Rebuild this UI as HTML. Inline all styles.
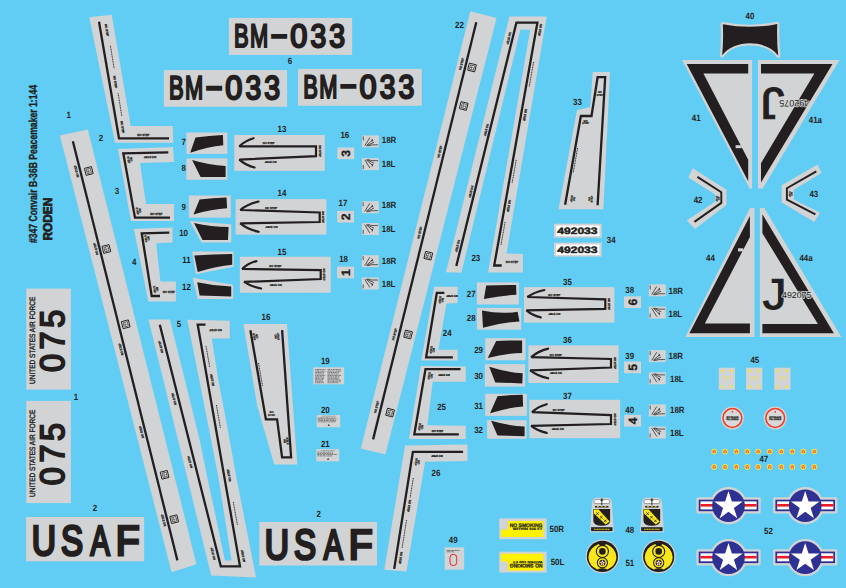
<!DOCTYPE html>
<html><head><meta charset="utf-8"><title>Roden 347 Convair B-36B Peacemaker decal sheet</title>
<style>
html,body{margin:0;padding:0;background:#62cdf4;}
body{width:846px;height:588px;overflow:hidden;font-family:"Liberation Sans",sans-serif;}
svg{display:block;}
svg text{font-family:"Liberation Sans",sans-serif;text-rendering:geometricPrecision;}
</style></head><body>
<svg width="846" height="588" viewBox="0 0 846 588">
<rect width="846" height="588" fill="#62cdf4"/>
<text x="0.0" y="0.0" font-size="11.6" font-weight="bold" text-anchor="start" fill="#231f20" transform="translate(37.4,243) rotate(-90)" textLength="158" lengthAdjust="spacingAndGlyphs" stroke="#231f20" stroke-width="0.35">#347 Convair B-36B Peacemaker 1:144</text>
<text x="0.0" y="0.0" font-size="12.6" font-weight="bold" text-anchor="start" fill="#231f20" transform="translate(52.4,240.6) rotate(-90)" textLength="43" lengthAdjust="spacingAndGlyphs" stroke="#231f20" stroke-width="0.8">RODEN</text>
<rect x="228.9" y="17.9" width="123.2" height="37.0" fill="#d1d3d4" />
<text font-size="32.56" font-weight="normal" fill="#231f20" stroke="#231f20" stroke-width="2.2" stroke-linejoin="miter" ><tspan x="234.00" y="47.40" textLength="14.64" lengthAdjust="spacingAndGlyphs">B</tspan><tspan x="250.01" y="47.40" textLength="18.18" lengthAdjust="spacingAndGlyphs">M</tspan><tspan x="270.64" y="44.84" textLength="17.13" lengthAdjust="spacingAndGlyphs">-</tspan><tspan x="290.30" y="47.40" textLength="17.07" lengthAdjust="spacingAndGlyphs">0</tspan><tspan x="310.53" y="47.40" textLength="15.69" lengthAdjust="spacingAndGlyphs">3</tspan><tspan x="329.22" y="47.40" textLength="15.81" lengthAdjust="spacingAndGlyphs">3</tspan></text>
<rect x="163.9" y="70.1" width="123.2" height="36.7" fill="#d1d3d4" />
<text font-size="32.99" font-weight="normal" fill="#231f20" stroke="#231f20" stroke-width="2.2" stroke-linejoin="miter" ><tspan x="169.00" y="99.40" textLength="14.64" lengthAdjust="spacingAndGlyphs">B</tspan><tspan x="185.01" y="99.40" textLength="18.18" lengthAdjust="spacingAndGlyphs">M</tspan><tspan x="205.64" y="96.81" textLength="17.13" lengthAdjust="spacingAndGlyphs">-</tspan><tspan x="225.30" y="99.40" textLength="17.07" lengthAdjust="spacingAndGlyphs">0</tspan><tspan x="245.53" y="99.40" textLength="15.69" lengthAdjust="spacingAndGlyphs">3</tspan><tspan x="264.22" y="99.40" textLength="15.81" lengthAdjust="spacingAndGlyphs">3</tspan></text>
<rect x="298.0" y="68.9" width="123.8" height="36.9" fill="#d1d3d4" />
<text font-size="32.70" font-weight="normal" fill="#231f20" stroke="#231f20" stroke-width="2.2" stroke-linejoin="miter" ><tspan x="303.20" y="98.00" textLength="14.64" lengthAdjust="spacingAndGlyphs">B</tspan><tspan x="319.21" y="98.00" textLength="18.18" lengthAdjust="spacingAndGlyphs">M</tspan><tspan x="339.84" y="95.43" textLength="17.13" lengthAdjust="spacingAndGlyphs">-</tspan><tspan x="359.50" y="98.00" textLength="17.07" lengthAdjust="spacingAndGlyphs">0</tspan><tspan x="379.73" y="98.00" textLength="15.69" lengthAdjust="spacingAndGlyphs">3</tspan><tspan x="398.42" y="98.00" textLength="15.81" lengthAdjust="spacingAndGlyphs">3</tspan></text>
<text x="289.9" y="64.1" font-size="9.0" font-weight="bold" text-anchor="middle" textLength="4.4" lengthAdjust="spacingAndGlyphs" fill="#231f20" >6</text>
<rect x="26.3" y="288.6" width="44.6" height="101.0" fill="#d1d3d4" />
<text x="0.0" y="0.0" font-size="7.8" font-weight="normal" text-anchor="start" fill="#231f20" transform="translate(35.4,384.0) rotate(-90)" textLength="87.3" lengthAdjust="spacingAndGlyphs" stroke="#231f20" stroke-width="0.35">UNITED STATES AIR FORCE</text>
<g transform="translate(65.2,371.7) rotate(-90)">
<text font-size="34.16" font-weight="normal" fill="#231f20" stroke="#231f20" stroke-width="1.9" stroke-linejoin="miter" ><tspan x="-0.32" y="-0.95" textLength="18.11" lengthAdjust="spacingAndGlyphs">0</tspan><tspan x="22.31" y="-0.95" textLength="17.85" lengthAdjust="spacingAndGlyphs">7</tspan><tspan x="43.95" y="-0.95" textLength="18.03" lengthAdjust="spacingAndGlyphs">5</tspan></text>
</g>
<rect x="26.3" y="400.9" width="44.6" height="102.2" fill="#d1d3d4" />
<text x="0.0" y="0.0" font-size="7.8" font-weight="normal" text-anchor="start" fill="#231f20" transform="translate(35.4,497.0) rotate(-90)" textLength="87.3" lengthAdjust="spacingAndGlyphs" stroke="#231f20" stroke-width="0.35">UNITED STATES AIR FORCE</text>
<g transform="translate(65.2,484.9) rotate(-90)">
<text font-size="34.16" font-weight="normal" fill="#231f20" stroke="#231f20" stroke-width="1.9" stroke-linejoin="miter" ><tspan x="-0.32" y="-0.95" textLength="18.11" lengthAdjust="spacingAndGlyphs">0</tspan><tspan x="22.31" y="-0.95" textLength="17.85" lengthAdjust="spacingAndGlyphs">7</tspan><tspan x="43.95" y="-0.95" textLength="18.03" lengthAdjust="spacingAndGlyphs">5</tspan></text>
</g>
<text x="76.0" y="400.0" font-size="9.0" font-weight="bold" text-anchor="middle" textLength="4.4" lengthAdjust="spacingAndGlyphs" fill="#231f20" >1</text>
<text x="68.8" y="117.9" font-size="9.0" font-weight="bold" text-anchor="middle" textLength="4.4" lengthAdjust="spacingAndGlyphs" fill="#231f20" >1</text>
<rect x="26.0" y="517.0" width="118.1" height="44.3" fill="#d1d3d4" />
<text font-size="42.01" font-weight="normal" fill="#231f20" stroke="#231f20" stroke-width="2.9" stroke-linejoin="miter" ><tspan x="31.67" y="554.55" textLength="24.24" lengthAdjust="spacingAndGlyphs">U</tspan><tspan x="60.96" y="554.55" textLength="22.08" lengthAdjust="spacingAndGlyphs">S</tspan><tspan x="90.59" y="554.55" textLength="19.22" lengthAdjust="spacingAndGlyphs">A</tspan><tspan x="115.65" y="554.55" textLength="23.86" lengthAdjust="spacingAndGlyphs">F</tspan></text>
<rect x="259.3" y="522.0" width="117.7" height="43.5" fill="#d1d3d4" />
<text font-size="41.86" font-weight="normal" fill="#231f20" stroke="#231f20" stroke-width="2.9" stroke-linejoin="miter" ><tspan x="264.67" y="559.05" textLength="24.24" lengthAdjust="spacingAndGlyphs">U</tspan><tspan x="294.03" y="559.05" textLength="22.08" lengthAdjust="spacingAndGlyphs">S</tspan><tspan x="323.73" y="559.05" textLength="19.22" lengthAdjust="spacingAndGlyphs">A</tspan><tspan x="348.85" y="559.05" textLength="23.86" lengthAdjust="spacingAndGlyphs">F</tspan></text>
<text x="94.9" y="511.4" font-size="9.0" font-weight="bold" text-anchor="middle" textLength="4.4" lengthAdjust="spacingAndGlyphs" fill="#231f20" >2</text>
<text x="318.7" y="517.0" font-size="9.0" font-weight="bold" text-anchor="middle" textLength="4.4" lengthAdjust="spacingAndGlyphs" fill="#231f20" >2</text>
<polygon points="59.9,135.6 87.8,129.4 196.4,564.2 171.6,572.2" fill="#d1d3d4" />
<polyline points="72.9,141.2 177.4,560.4" fill="none" stroke="#231f20" stroke-width="2.3" stroke-linejoin="miter" />
<polygon points="89.3,17.3 111.7,14.7 130.7,126.0 172.7,126.0 173.3,142.7 115.0,142.7" fill="#d1d3d4" />
<polyline points="99.0,21.7 119.0,138.3 169.0,138.3" fill="none" stroke="#231f20" stroke-width="2.3" stroke-linejoin="miter" />
<text x="101.0" y="141.0" font-size="9.0" font-weight="bold" text-anchor="middle" textLength="4.4" lengthAdjust="spacingAndGlyphs" fill="#231f20" >2</text>
<polygon points="118.0,149.0 173.0,147.0 174.0,162.0 140.0,163.0 146.0,204.0 174.0,204.0 174.0,221.0 131.0,221.0" fill="#d1d3d4" />
<polyline points="168.3,152.3 123.3,153.3 135.0,217.7 170.0,217.7" fill="none" stroke="#231f20" stroke-width="2.3" stroke-linejoin="miter" />
<text x="117.0" y="194.0" font-size="9.0" font-weight="bold" text-anchor="middle" textLength="4.4" lengthAdjust="spacingAndGlyphs" fill="#231f20" >3</text>
<polygon points="133.9,229.0 172.5,227.6 172.5,242.6 156.2,243.2 160.5,281.5 175.9,281.5 175.9,301.4 148.3,301.4" fill="#d1d3d4" />
<polyline points="169.3,232.7 141.7,233.3 151.7,296.0 160.0,296.0" fill="none" stroke="#231f20" stroke-width="2.3" stroke-linejoin="miter" />
<text x="134.3" y="264.5" font-size="9.0" font-weight="bold" text-anchor="middle" textLength="4.4" lengthAdjust="spacingAndGlyphs" fill="#231f20" >4</text>
<polygon points="148.5,319.5 169.8,319.5 184.9,380.0 199.7,440.0 207.8,480.0 212.3,500.5 224.9,560.4 231.5,560.4 218.9,480.0 211.1,440.0 199.3,380.0 187.3,319.8 229.8,320.8 229.8,338.4 211.8,338.4 218.3,380.0 226.0,420.0 236.9,480.0 256.0,577.6 211.2,575.4" fill="#d1d3d4" />
<polyline points="159.8,324.7 220.8,566.4 240.0,566.4 197.7,324.7 205.5,324.7" fill="none" stroke="#231f20" stroke-width="2.3" stroke-linejoin="miter" />
<text x="179.0" y="326.5" font-size="9.0" font-weight="bold" text-anchor="middle" textLength="4.4" lengthAdjust="spacingAndGlyphs" fill="#231f20" >5</text>
<polygon points="243.4,324.0 286.9,324.0 297.3,464.5 274.3,464.5 257.4,406.8" fill="#d1d3d4" />
<polyline points="250.4,330.2 265.9,419.4 277.1,419.4 282.1,457.3 291.1,457.3 282.1,330.2" fill="none" stroke="#231f20" stroke-width="2.3" stroke-linejoin="miter" />
<text x="265.9" y="320.0" font-size="9.0" font-weight="bold" text-anchor="middle" textLength="8.8" lengthAdjust="spacingAndGlyphs" fill="#231f20" >16</text>
<rect x="313.2" y="367.3" width="30.9" height="17.0" fill="#d1d3d4" />
<text x="325.3" y="364.3" font-size="9.0" font-weight="bold" text-anchor="middle" textLength="8.8" lengthAdjust="spacingAndGlyphs" fill="#231f20" >19</text>
<line x1="315.2" y1="369.6" x2="325.3" y2="369.6" stroke="#231f20" stroke-width="0.75" stroke-dasharray="1.4 0.4 2.0 0.4 1.8 0.5 0.9 0.5 0.9 0.5" opacity="0.7"/>
<line x1="315.2" y1="371.1" x2="325.4" y2="371.1" stroke="#231f20" stroke-width="0.75" stroke-dasharray="1.0 0.5 2.3 0.4 1.2 0.6 2.5 0.6 1.5 0.7" opacity="0.7"/>
<line x1="315.2" y1="372.5" x2="324.1" y2="372.5" stroke="#231f20" stroke-width="0.75" stroke-dasharray="2.3 0.5 1.1 0.4 1.4 0.6 1.1 0.6 2.0 0.5" opacity="0.7"/>
<line x1="315.2" y1="374.0" x2="323.7" y2="374.0" stroke="#231f20" stroke-width="0.75" stroke-dasharray="0.9 0.4 1.2 0.6 1.6 0.5 1.9 0.5 1.3 0.6" opacity="0.7"/>
<line x1="315.2" y1="375.4" x2="325.1" y2="375.4" stroke="#231f20" stroke-width="0.75" stroke-dasharray="1.2 0.6 1.7 0.7 2.1 0.5 2.6 0.4 1.6 0.6" opacity="0.7"/>
<line x1="315.2" y1="376.9" x2="324.3" y2="376.9" stroke="#231f20" stroke-width="0.75" stroke-dasharray="1.7 0.4 2.0 0.6 1.8 0.7 1.4 0.6 1.9 0.6" opacity="0.7"/>
<line x1="315.2" y1="378.3" x2="324.5" y2="378.3" stroke="#231f20" stroke-width="0.75" stroke-dasharray="2.3 0.7 1.7 0.6 0.9 0.6 2.0 0.7 2.3 0.4" opacity="0.7"/>
<line x1="315.2" y1="379.8" x2="323.3" y2="379.8" stroke="#231f20" stroke-width="0.75" stroke-dasharray="2.0 0.4 1.6 0.4 1.0 0.4 2.2 0.4 1.2 0.5" opacity="0.7"/>
<line x1="315.2" y1="381.2" x2="323.0" y2="381.2" stroke="#231f20" stroke-width="0.75" stroke-dasharray="0.9 0.5 1.8 0.7 2.3 0.7 1.3 0.5 1.4 0.7" opacity="0.7"/>
<line x1="315.2" y1="382.7" x2="324.0" y2="382.7" stroke="#231f20" stroke-width="0.75" stroke-dasharray="1.1 0.4 1.2 0.4 1.7 0.6 1.3 0.4 1.6 0.5" opacity="0.7"/>
<line x1="327.5" y1="369.6" x2="340.6" y2="369.6" stroke="#231f20" stroke-width="0.75" stroke-dasharray="2.5 0.6 1.7 0.6 2.0 0.4 2.4 0.6 2.4 0.6" opacity="0.7"/>
<line x1="327.5" y1="371.1" x2="341.5" y2="371.1" stroke="#231f20" stroke-width="0.75" stroke-dasharray="1.5 0.4 1.9 0.4 0.9 0.4 1.1 0.5 0.9 0.4" opacity="0.7"/>
<line x1="327.5" y1="372.5" x2="338.9" y2="372.5" stroke="#231f20" stroke-width="0.75" stroke-dasharray="1.0 0.5 0.8 0.7 1.9 0.4 1.3 0.5 1.5 0.4" opacity="0.7"/>
<line x1="327.5" y1="374.0" x2="338.6" y2="374.0" stroke="#231f20" stroke-width="0.75" stroke-dasharray="2.6 0.5 1.7 0.4 1.0 0.5 1.3 0.6 1.1 0.4" opacity="0.7"/>
<line x1="327.5" y1="375.4" x2="341.4" y2="375.4" stroke="#231f20" stroke-width="0.75" stroke-dasharray="1.8 0.4 1.8 0.4 1.8 0.7 2.4 0.6 1.3 0.5" opacity="0.7"/>
<line x1="327.5" y1="376.9" x2="339.3" y2="376.9" stroke="#231f20" stroke-width="0.75" stroke-dasharray="2.2 0.5 2.2 0.5 1.2 0.6 2.6 0.6 2.3 0.6" opacity="0.7"/>
<line x1="327.5" y1="378.3" x2="338.6" y2="378.3" stroke="#231f20" stroke-width="0.75" stroke-dasharray="1.2 0.5 1.4 0.4 0.9 0.4 1.3 0.6 2.5 0.5" opacity="0.7"/>
<line x1="327.5" y1="379.8" x2="340.3" y2="379.8" stroke="#231f20" stroke-width="0.75" stroke-dasharray="2.6 0.7 1.5 0.4 1.2 0.4 1.2 0.6 2.4 0.6" opacity="0.7"/>
<line x1="327.5" y1="381.2" x2="340.8" y2="381.2" stroke="#231f20" stroke-width="0.75" stroke-dasharray="2.0 0.6 1.0 0.6 2.4 0.6 2.2 0.5 1.1 0.6" opacity="0.7"/>
<line x1="327.5" y1="382.7" x2="339.1" y2="382.7" stroke="#231f20" stroke-width="0.75" stroke-dasharray="2.2 0.7 1.5 0.5 2.5 0.6 1.1 0.4 1.1 0.7" opacity="0.7"/>
<rect x="316.7" y="415.0" width="23.5" height="12.3" fill="#d1d3d4" />
<line x1="321.7" y1="416.2" x2="336.2" y2="416.2" stroke="#231f20" stroke-width="0.5" stroke-dasharray="1 0.4" opacity="0.75"/>
<line x1="317.8" y1="418.0" x2="335.9" y2="418.0" stroke="#231f20" stroke-width="0.7" stroke-dasharray="1.1 0.6 2.6 0.6 1.4 0.5 1.0 0.4 2.5 0.6" opacity="0.7"/>
<line x1="317.8" y1="419.2" x2="336.5" y2="419.2" stroke="#231f20" stroke-width="0.7" stroke-dasharray="2.5 0.5 2.4 0.6 1.2 0.4 1.3 0.4 1.9 0.4" opacity="0.7"/>
<line x1="317.8" y1="420.5" x2="336.0" y2="420.5" stroke="#231f20" stroke-width="0.7" stroke-dasharray="1.0 0.7 1.4 0.5 1.9 0.7 1.6 0.7 1.7 0.5" opacity="0.7"/>
<line x1="317.8" y1="421.8" x2="336.0" y2="421.8" stroke="#231f20" stroke-width="0.7" stroke-dasharray="0.8 0.5 1.1 0.4 2.2 0.4 1.7 0.6 1.8 0.5" opacity="0.7"/>
<polygon points="328.8,423.9 329.9,425.7 327.6,425.7" fill="#231f20" />
<text x="325.3" y="413.2" font-size="9.0" font-weight="bold" text-anchor="middle" textLength="8.8" lengthAdjust="spacingAndGlyphs" fill="#231f20" >20</text>
<rect x="316.3" y="449.1" width="22.9" height="12.3" fill="#d1d3d4" />
<line x1="321.3" y1="450.3" x2="335.2" y2="450.3" stroke="#231f20" stroke-width="0.5" stroke-dasharray="1 0.4" opacity="0.75"/>
<line x1="317.4" y1="452.1" x2="333.1" y2="452.1" stroke="#231f20" stroke-width="0.7" stroke-dasharray="1.8 0.6 1.0 0.5 1.2 0.4 2.2 0.5 1.8 0.6" opacity="0.7"/>
<line x1="317.4" y1="453.4" x2="333.3" y2="453.4" stroke="#231f20" stroke-width="0.7" stroke-dasharray="1.6 0.6 1.7 0.5 2.0 0.5 1.8 0.5 2.5 0.6" opacity="0.7"/>
<line x1="317.4" y1="454.6" x2="337.3" y2="454.6" stroke="#231f20" stroke-width="0.7" stroke-dasharray="2.5 0.4 1.8 0.7 2.3 0.4 1.0 0.5 0.9 0.4" opacity="0.7"/>
<line x1="317.4" y1="455.9" x2="332.9" y2="455.9" stroke="#231f20" stroke-width="0.7" stroke-dasharray="2.0 0.6 2.4 0.4 2.1 0.6 1.1 0.7 2.5 0.4" opacity="0.7"/>
<polygon points="328.1,458.0 329.2,459.8 326.9,459.8" fill="#231f20" />
<text x="325.3" y="447.1" font-size="9.0" font-weight="bold" text-anchor="middle" textLength="8.8" lengthAdjust="spacingAndGlyphs" fill="#231f20" >21</text>
<rect x="186.4" y="132.5" width="41.0" height="21.4" fill="#d1d3d4" />
<path d="M190.2,152.7 L195.5,137.6 Q209.2,135.8 222.9,135.0 L223.3,145.2 Q208.4,146.6 190.2,152.7 Z" fill="#231f20" />
<rect x="186.4" y="158.4" width="41.0" height="21.4" fill="#d1d3d4" />
<path d="M192.1,159.9 Q208.8,164.9 225.6,166.0 L225.6,177.0 L200.6,177.0 Z" fill="#231f20" />
<rect x="188.9" y="195.5" width="41.9" height="22.1" fill="#d1d3d4" />
<path d="M193.4,214.4 L199.6,199.6 Q213.1,198.0 226.5,197.4 L227.1,208.2 Q211.9,209.0 193.4,214.4 Z" fill="#231f20" />
<polygon points="189.6,221.0 231.2,224.2 231.2,242.5 201.5,242.5" fill="#d1d3d4" />
<path d="M194.0,222.9 Q211.3,226.9 228.6,227.0 L228.0,239.9 L202.5,239.9 Z" fill="#231f20" />
<polygon points="192.1,251.6 233.7,251.6 233.7,266.7 195.9,274.3" fill="#d1d3d4" />
<path d="M197.7,272.0 L194.3,255.4 Q213.2,254.4 232.2,254.1 L232.2,264.8 Q216.7,266.2 197.7,272.0 Z" fill="#231f20" />
<polygon points="192.6,277.7 233.1,284.7 233.1,298.9 197.7,298.9" fill="#d1d3d4" />
<path d="M197.2,282.2 Q214.2,285.9 231.2,286.6 L231.2,296.6 L199.6,295.5 Z" fill="#231f20" />
<text x="183.6" y="144.5" font-size="9.0" font-weight="bold" text-anchor="middle" textLength="4.4" lengthAdjust="spacingAndGlyphs" fill="#231f20" >7</text>
<text x="183.6" y="171.0" font-size="9.0" font-weight="bold" text-anchor="middle" textLength="4.4" lengthAdjust="spacingAndGlyphs" fill="#231f20" >8</text>
<text x="183.6" y="209.7" font-size="9.0" font-weight="bold" text-anchor="middle" textLength="4.4" lengthAdjust="spacingAndGlyphs" fill="#231f20" >9</text>
<text x="183.6" y="235.8" font-size="9.0" font-weight="bold" text-anchor="middle" textLength="8.8" lengthAdjust="spacingAndGlyphs" fill="#231f20" >10</text>
<text x="186.4" y="263.2" font-size="9.0" font-weight="bold" text-anchor="middle" textLength="8.4" lengthAdjust="spacingAndGlyphs" fill="#231f20" >11</text>
<text x="186.4" y="289.7" font-size="9.0" font-weight="bold" text-anchor="middle" textLength="8.8" lengthAdjust="spacingAndGlyphs" fill="#231f20" >12</text>
<rect x="476.9" y="282.4" width="42.0" height="22.1" fill="#d1d3d4" />
<path d="M483.9,298.9 L486.2,285.6 Q501.1,285.1 516.1,284.9 L516.4,294.7 Q501.8,295.4 483.9,298.9 Z" fill="#231f20" />
<rect x="476.9" y="307.9" width="44.3" height="21.8" fill="#d1d3d4"/>
<path d="M482,310.4 Q500,314.5 517.6,311.7 L519.5,321.5 Q500,322.5 483,327.8 Z" fill="#231f20" />
<rect x="485.2" y="338.2" width="40.3" height="22.1" fill="#d1d3d4" />
<path d="M487.7,358.0 L496.2,341.0 Q509.1,340.2 522.1,340.5 L522.1,352.9 Q506.6,353.2 487.7,358.0 Z" fill="#231f20" />
<rect x="484.9" y="364.1" width="40.2" height="22.5" fill="#d1d3d4" />
<path d="M489.2,366.7 Q506.0,372.0 522.7,373.3 L522.3,383.4 L495.3,382.4 Z" fill="#231f20" />
<rect x="485.2" y="393.8" width="41.6" height="22.1" fill="#d1d3d4" />
<path d="M490.0,413.2 L497.5,396.2 Q510.1,394.9 522.7,394.7 L523.1,406.4 Q508.2,407.5 490.0,413.2 Z" fill="#231f20" />
<rect x="487.1" y="420.2" width="39.4" height="18.6" fill="#d1d3d4" />
<path d="M491.1,420.8 Q507.9,425.6 524.6,426.5 L524.6,436.3 L497.5,435.4 Z" fill="#231f20" />
<text x="471.2" y="297.4" font-size="9.0" font-weight="bold" text-anchor="middle" textLength="8.8" lengthAdjust="spacingAndGlyphs" fill="#231f20" >27</text>
<text x="471.2" y="320.9" font-size="9.0" font-weight="bold" text-anchor="middle" textLength="8.8" lengthAdjust="spacingAndGlyphs" fill="#231f20" >28</text>
<text x="478.6" y="353.0" font-size="9.0" font-weight="bold" text-anchor="middle" textLength="8.8" lengthAdjust="spacingAndGlyphs" fill="#231f20" >29</text>
<text x="478.6" y="378.6" font-size="9.0" font-weight="bold" text-anchor="middle" textLength="8.8" lengthAdjust="spacingAndGlyphs" fill="#231f20" >30</text>
<text x="478.6" y="408.6" font-size="9.0" font-weight="bold" text-anchor="middle" textLength="8.8" lengthAdjust="spacingAndGlyphs" fill="#231f20" >31</text>
<text x="478.6" y="433.2" font-size="9.0" font-weight="bold" text-anchor="middle" textLength="8.8" lengthAdjust="spacingAndGlyphs" fill="#231f20" >32</text>
<rect x="234.3" y="135.0" width="90.5" height="35.9" fill="#d1d3d4" />
<path d="M253.5,138.2 Q244.8,140.8 239.4,146.3 L316.0,146.3 L316.0,156.2 L239.4,159.6 Q245.1,165.0 254.5,167.5" fill="none" stroke="#231f20" stroke-width="2.2" stroke-linejoin="miter" stroke-miterlimit="2.5" stroke-linecap="round"/>
<rect x="235.6" y="199.1" width="90.8" height="35.5" fill="#d1d3d4" />
<path d="M258.6,201.5 Q247.3,204.2 240.3,210.0 L319.7,212.5 L319.7,222.0 L240.3,223.3 Q247.3,229.1 258.6,231.8" fill="none" stroke="#231f20" stroke-width="2.2" stroke-linejoin="miter" stroke-miterlimit="2.5" stroke-linecap="round"/>
<rect x="239.9" y="256.7" width="90.8" height="36.1" fill="#d1d3d4" />
<path d="M256.4,261.1 Q247.6,263.6 242.2,269.0 L320.7,270.1 L320.7,279.0 L244.1,281.9 Q250.6,286.4 261.1,288.5" fill="none" stroke="#231f20" stroke-width="2.2" stroke-linejoin="miter" stroke-miterlimit="2.5" stroke-linecap="round"/>
<rect x="524.0" y="287.1" width="90.4" height="35.6" fill="#d1d3d4" />
<path d="M544.4,290.0 Q533.9,292.2 527.4,297.0 L605.3,299.4 L605.3,308.9 L526.5,310.4 Q531.9,315.2 540.7,317.4" fill="none" stroke="#231f20" stroke-width="2.2" stroke-linejoin="miter" stroke-miterlimit="2.5" stroke-linecap="round"/>
<rect x="528.4" y="345.4" width="90.2" height="37.6" fill="#d1d3d4" />
<path d="M548.2,348.6 Q537.7,351.3 531.2,357.1 L611.0,359.0 L611.0,367.5 L530.2,370.3 Q537.0,375.7 548.2,378.3" fill="none" stroke="#231f20" stroke-width="2.2" stroke-linejoin="miter" stroke-miterlimit="2.5" stroke-linecap="round"/>
<rect x="529.3" y="399.8" width="90.8" height="38.4" fill="#d1d3d4" />
<path d="M546.7,404.2 Q537.6,406.7 532.1,412.1 L611.0,415.1 L611.0,424.0 L531.2,425.9 Q537.1,430.7 546.7,432.9" fill="none" stroke="#231f20" stroke-width="2.2" stroke-linejoin="miter" stroke-miterlimit="2.5" stroke-linecap="round"/>
<text x="281.9" y="132.4" font-size="9.0" font-weight="bold" text-anchor="middle" textLength="8.8" lengthAdjust="spacingAndGlyphs" fill="#231f20" >13</text>
<text x="281.9" y="196.1" font-size="9.0" font-weight="bold" text-anchor="middle" textLength="8.8" lengthAdjust="spacingAndGlyphs" fill="#231f20" >14</text>
<text x="281.9" y="255.1" font-size="9.0" font-weight="bold" text-anchor="middle" textLength="8.8" lengthAdjust="spacingAndGlyphs" fill="#231f20" >15</text>
<text x="567.5" y="284.9" font-size="9.0" font-weight="bold" text-anchor="middle" textLength="8.8" lengthAdjust="spacingAndGlyphs" fill="#231f20" >35</text>
<text x="567.5" y="343.2" font-size="9.0" font-weight="bold" text-anchor="middle" textLength="8.8" lengthAdjust="spacingAndGlyphs" fill="#231f20" >36</text>
<text x="567.5" y="398.8" font-size="9.0" font-weight="bold" text-anchor="middle" textLength="8.8" lengthAdjust="spacingAndGlyphs" fill="#231f20" >37</text>
<text x="344.8" y="137.9" font-size="9.0" font-weight="bold" text-anchor="middle" textLength="8.8" lengthAdjust="spacingAndGlyphs" fill="#231f20" >16</text>
<rect x="337.3" y="147.5" width="16.9" height="11.7" fill="#d1d3d4" />
<text font-size="12.2" font-weight="bold" text-anchor="middle" stroke="#231f20" stroke-width="0.3" fill="#231f20" transform="translate(345.8,153.3) rotate(-90)" x="0" y="4.5">3</text>
<rect x="362.0" y="135.4" width="16.9" height="12.0" fill="#d1d3d4" />
<g transform="translate(362.0,135.4)" fill="none" stroke="#231f20" stroke-width="0.7" stroke-linecap="round"><path d="M3,10 L7.7,2.4 M4.5,10 L10.6,4.8 M10.2,3.8 L10.9,5.6 L9.7,5.4 M6,10.4 Q9,9 15.8,9.4 M5.2,10.2 Q8.5,8.6 11.8,7 M1.2,1.4 L1.3,4.7" /></g>
<rect x="362.0" y="158.1" width="16.9" height="12.0" fill="#d1d3d4" />
<g transform="translate(362.0,170.1) scale(1,-1)" fill="none" stroke="#231f20" stroke-width="0.7" stroke-linecap="round"><path d="M3,10 L7.7,2.4 M4.5,10 L10.6,4.8 M10.2,3.8 L10.9,5.6 L9.7,5.4 M6,10.4 Q9,9 15.8,9.4 M5.2,10.2 Q8.5,8.6 11.8,7 M1.2,1.4 L1.3,4.7" /></g>
<text x="381.8" y="143.2" font-size="9.0" font-weight="bold" text-anchor="start" textLength="14.5" lengthAdjust="spacingAndGlyphs" fill="#231f20" >18R</text>
<text x="381.8" y="167.1" font-size="9.0" font-weight="bold" text-anchor="start" textLength="13.6" lengthAdjust="spacingAndGlyphs" fill="#231f20" >18L</text>
<text x="342.9" y="205.6" font-size="9.0" font-weight="bold" text-anchor="middle" textLength="8.8" lengthAdjust="spacingAndGlyphs" fill="#231f20" >17</text>
<rect x="337.1" y="210.9" width="16.9" height="11.7" fill="#d1d3d4" />
<text font-size="12.2" font-weight="bold" text-anchor="middle" stroke="#231f20" stroke-width="0.3" fill="#231f20" transform="translate(345.6,216.8) rotate(-90)" x="0" y="4.5">2</text>
<rect x="361.9" y="201.2" width="16.9" height="12.0" fill="#d1d3d4" />
<g transform="translate(361.9,201.2)" fill="none" stroke="#231f20" stroke-width="0.7" stroke-linecap="round"><path d="M3,10 L7.7,2.4 M4.5,10 L10.6,4.8 M10.2,3.8 L10.9,5.6 L9.7,5.4 M6,10.4 Q9,9 15.8,9.4 M5.2,10.2 Q8.5,8.6 11.8,7 M1.2,1.4 L1.3,4.7" /></g>
<rect x="361.9" y="223.0" width="16.9" height="12.0" fill="#d1d3d4" />
<g transform="translate(361.9,235.0) scale(1,-1)" fill="none" stroke="#231f20" stroke-width="0.7" stroke-linecap="round"><path d="M3,10 L7.7,2.4 M4.5,10 L10.6,4.8 M10.2,3.8 L10.9,5.6 L9.7,5.4 M6,10.4 Q9,9 15.8,9.4 M5.2,10.2 Q8.5,8.6 11.8,7 M1.2,1.4 L1.3,4.7" /></g>
<text x="381.8" y="207.7" font-size="9.0" font-weight="bold" text-anchor="start" textLength="14.5" lengthAdjust="spacingAndGlyphs" fill="#231f20" >18R</text>
<text x="381.8" y="231.8" font-size="9.0" font-weight="bold" text-anchor="start" textLength="13.6" lengthAdjust="spacingAndGlyphs" fill="#231f20" >18L</text>
<text x="343.6" y="262.3" font-size="9.0" font-weight="bold" text-anchor="middle" textLength="8.8" lengthAdjust="spacingAndGlyphs" fill="#231f20" >18</text>
<rect x="337.1" y="266.6" width="16.9" height="11.7" fill="#d1d3d4" />
<text font-size="12.2" font-weight="bold" text-anchor="middle" stroke="#231f20" stroke-width="0.3" fill="#231f20" transform="translate(345.6,272.5) rotate(-90)" x="0" y="4.5">1</text>
<rect x="361.9" y="255.2" width="16.9" height="12.0" fill="#d1d3d4" />
<g transform="translate(361.9,255.2)" fill="none" stroke="#231f20" stroke-width="0.7" stroke-linecap="round"><path d="M3,10 L7.7,2.4 M4.5,10 L10.6,4.8 M10.2,3.8 L10.9,5.6 L9.7,5.4 M6,10.4 Q9,9 15.8,9.4 M5.2,10.2 Q8.5,8.6 11.8,7 M1.2,1.4 L1.3,4.7" /></g>
<rect x="361.9" y="277.5" width="16.9" height="12.0" fill="#d1d3d4" />
<g transform="translate(361.9,289.5) scale(1,-1)" fill="none" stroke="#231f20" stroke-width="0.7" stroke-linecap="round"><path d="M3,10 L7.7,2.4 M4.5,10 L10.6,4.8 M10.2,3.8 L10.9,5.6 L9.7,5.4 M6,10.4 Q9,9 15.8,9.4 M5.2,10.2 Q8.5,8.6 11.8,7 M1.2,1.4 L1.3,4.7" /></g>
<text x="381.8" y="263.6" font-size="9.0" font-weight="bold" text-anchor="start" textLength="14.5" lengthAdjust="spacingAndGlyphs" fill="#231f20" >18R</text>
<text x="381.8" y="287.1" font-size="9.0" font-weight="bold" text-anchor="start" textLength="13.6" lengthAdjust="spacingAndGlyphs" fill="#231f20" >18L</text>
<text x="629.7" y="293.0" font-size="9.0" font-weight="bold" text-anchor="middle" textLength="8.8" lengthAdjust="spacingAndGlyphs" fill="#231f20" >38</text>
<rect x="624.1" y="296.3" width="16.9" height="11.7" fill="#d1d3d4" />
<text font-size="12.2" font-weight="bold" text-anchor="middle" stroke="#231f20" stroke-width="0.3" fill="#231f20" transform="translate(632.6,302.2) rotate(-90)" x="0" y="4.5">6</text>
<rect x="648.9" y="284.3" width="16.9" height="12.0" fill="#d1d3d4" />
<g transform="translate(648.9,284.3)" fill="none" stroke="#231f20" stroke-width="0.7" stroke-linecap="round"><path d="M3,10 L7.7,2.4 M4.5,10 L10.6,4.8 M10.2,3.8 L10.9,5.6 L9.7,5.4 M6,10.4 Q9,9 15.8,9.4 M5.2,10.2 Q8.5,8.6 11.8,7 M1.2,1.4 L1.3,4.7" /></g>
<rect x="648.9" y="306.6" width="16.9" height="12.0" fill="#d1d3d4" />
<g transform="translate(648.9,318.6) scale(1,-1)" fill="none" stroke="#231f20" stroke-width="0.7" stroke-linecap="round"><path d="M3,10 L7.7,2.4 M4.5,10 L10.6,4.8 M10.2,3.8 L10.9,5.6 L9.7,5.4 M6,10.4 Q9,9 15.8,9.4 M5.2,10.2 Q8.5,8.6 11.8,7 M1.2,1.4 L1.3,4.7" /></g>
<text x="668.5" y="293.8" font-size="9.0" font-weight="bold" text-anchor="start" textLength="14.5" lengthAdjust="spacingAndGlyphs" fill="#231f20" >18R</text>
<text x="668.5" y="317.3" font-size="9.0" font-weight="bold" text-anchor="start" textLength="13.6" lengthAdjust="spacingAndGlyphs" fill="#231f20" >18L</text>
<text x="629.7" y="358.8" font-size="9.0" font-weight="bold" text-anchor="middle" textLength="8.8" lengthAdjust="spacingAndGlyphs" fill="#231f20" >39</text>
<rect x="624.1" y="361.5" width="16.9" height="11.7" fill="#d1d3d4" />
<text font-size="12.2" font-weight="bold" text-anchor="middle" stroke="#231f20" stroke-width="0.3" fill="#231f20" transform="translate(632.6,367.4) rotate(-90)" x="0" y="4.5">5</text>
<rect x="648.9" y="350.1" width="16.9" height="12.0" fill="#d1d3d4" />
<g transform="translate(648.9,350.1)" fill="none" stroke="#231f20" stroke-width="0.7" stroke-linecap="round"><path d="M3,10 L7.7,2.4 M4.5,10 L10.6,4.8 M10.2,3.8 L10.9,5.6 L9.7,5.4 M6,10.4 Q9,9 15.8,9.4 M5.2,10.2 Q8.5,8.6 11.8,7 M1.2,1.4 L1.3,4.7" /></g>
<rect x="648.9" y="372.3" width="16.9" height="12.0" fill="#d1d3d4" />
<g transform="translate(648.9,384.3) scale(1,-1)" fill="none" stroke="#231f20" stroke-width="0.7" stroke-linecap="round"><path d="M3,10 L7.7,2.4 M4.5,10 L10.6,4.8 M10.2,3.8 L10.9,5.6 L9.7,5.4 M6,10.4 Q9,9 15.8,9.4 M5.2,10.2 Q8.5,8.6 11.8,7 M1.2,1.4 L1.3,4.7" /></g>
<text x="668.5" y="359.4" font-size="9.0" font-weight="bold" text-anchor="start" textLength="14.5" lengthAdjust="spacingAndGlyphs" fill="#231f20" >18R</text>
<text x="670.0" y="382.0" font-size="9.0" font-weight="bold" text-anchor="start" textLength="13.6" lengthAdjust="spacingAndGlyphs" fill="#231f20" >18L</text>
<text x="629.7" y="413.1" font-size="9.0" font-weight="bold" text-anchor="middle" textLength="8.8" lengthAdjust="spacingAndGlyphs" fill="#231f20" >40</text>
<rect x="624.1" y="414.9" width="16.9" height="11.7" fill="#d1d3d4" />
<text font-size="12.2" font-weight="bold" text-anchor="middle" stroke="#231f20" stroke-width="0.3" fill="#231f20" transform="translate(632.6,420.8) rotate(-90)" x="0" y="4.5">4</text>
<rect x="648.9" y="404.4" width="16.9" height="12.0" fill="#d1d3d4" />
<g transform="translate(648.9,404.4)" fill="none" stroke="#231f20" stroke-width="0.7" stroke-linecap="round"><path d="M3,10 L7.7,2.4 M4.5,10 L10.6,4.8 M10.2,3.8 L10.9,5.6 L9.7,5.4 M6,10.4 Q9,9 15.8,9.4 M5.2,10.2 Q8.5,8.6 11.8,7 M1.2,1.4 L1.3,4.7" /></g>
<rect x="648.9" y="426.5" width="16.9" height="12.0" fill="#d1d3d4" />
<g transform="translate(648.9,438.5) scale(1,-1)" fill="none" stroke="#231f20" stroke-width="0.7" stroke-linecap="round"><path d="M3,10 L7.7,2.4 M4.5,10 L10.6,4.8 M10.2,3.8 L10.9,5.6 L9.7,5.4 M6,10.4 Q9,9 15.8,9.4 M5.2,10.2 Q8.5,8.6 11.8,7 M1.2,1.4 L1.3,4.7" /></g>
<text x="670.0" y="412.5" font-size="9.0" font-weight="bold" text-anchor="start" textLength="14.5" lengthAdjust="spacingAndGlyphs" fill="#231f20" >18R</text>
<text x="670.0" y="435.7" font-size="9.0" font-weight="bold" text-anchor="start" textLength="13.6" lengthAdjust="spacingAndGlyphs" fill="#231f20" >18L</text>
<polygon points="470.3,11.3 496.6,18.0 385.4,454.6 360.8,448.5" fill="#d1d3d4" />
<polyline points="476.3,22.3 373.1,439.4" fill="none" stroke="#231f20" stroke-width="2.3" stroke-linejoin="miter" />
<text x="459.5" y="28.1" font-size="9.0" font-weight="bold" text-anchor="middle" textLength="8.8" lengthAdjust="spacingAndGlyphs" fill="#231f20" >22</text>
<polygon points="509.4,16.6 546.7,16.6 506.5,253.4 522.9,254.1 522.9,272.5 488.1,272.5 530.2,29.7 520.4,29.7 461.4,272.7 445.9,272.3" fill="#d1d3d4" />
<polyline points="456.3,266.0 516.4,22.7 537.4,22.7 494.2,265.5 501.7,265.5" fill="none" stroke="#231f20" stroke-width="2.3" stroke-linejoin="miter" />
<text x="475.8" y="261.0" font-size="9.0" font-weight="bold" text-anchor="middle" textLength="8.8" lengthAdjust="spacingAndGlyphs" fill="#231f20" >23</text>
<polygon points="434.2,286.7 457.6,286.7 457.6,303.0 446.5,303.4 438.3,349.7 457.6,349.7 457.6,360.5 421.3,360.5" fill="#d1d3d4" />
<polyline points="444.4,292.8 436.8,292.8 426.1,357.3 452.9,357.3" fill="none" stroke="#231f20" stroke-width="2.3" stroke-linejoin="miter" />
<text x="447.2" y="336.2" font-size="9.0" font-weight="bold" text-anchor="middle" textLength="8.8" lengthAdjust="spacingAndGlyphs" fill="#231f20" >24</text>
<polygon points="420.9,366.1 465.8,366.6 465.8,381.7 432.7,381.7 427.4,425.2 465.8,425.8 465.8,439.0 409.0,439.0" fill="#d1d3d4" />
<polyline points="460.5,369.1 425.5,369.1 414.3,434.4 458.8,434.4" fill="none" stroke="#231f20" stroke-width="2.3" stroke-linejoin="miter" />
<text x="441.6" y="410.4" font-size="9.0" font-weight="bold" text-anchor="middle" textLength="8.8" lengthAdjust="spacingAndGlyphs" fill="#231f20" >25</text>
<polygon points="405.1,445.4 467.5,444.6 467.5,461.0 425.1,461.8 406.4,571.5 384.3,569.7" fill="#d1d3d4" />
<polyline points="463.1,451.9 412.9,451.9 394.2,568.9" fill="none" stroke="#231f20" stroke-width="2.3" stroke-linejoin="miter" />
<text x="436.0" y="475.5" font-size="9.0" font-weight="bold" text-anchor="middle" textLength="8.8" lengthAdjust="spacingAndGlyphs" fill="#231f20" >26</text>
<rect x="444.6" y="547.4" width="19.5" height="22.3" fill="#d1d3d4" />
<rect x="450" y="554.4" width="6.7" height="11.1" rx="3" fill="none" stroke="#ed1c24" stroke-width="0.95"/>
<line x1="446.6" y1="550.6" x2="459.4" y2="550.6" stroke="#231f20" stroke-width="0.8" stroke-dasharray="1.2 0.4 0.8 0.3" opacity="0.85"/>
<line x1="446.6" y1="551.8" x2="454" y2="551.8" stroke="#231f20" stroke-width="0.7" stroke-dasharray="0.9 0.4" opacity="0.8"/>
<text x="453.2" y="543.4" font-size="9.0" font-weight="bold" text-anchor="middle" textLength="8.8" lengthAdjust="spacingAndGlyphs" fill="#231f20" >49</text>
<rect x="499.2" y="518.4" width="47.4" height="20.8" fill="#d1d3d4" />
<polygon points="507.9,521.0 543.2,521.0 543.2,537.1 501.0,537.1 501.0,529.6 507.9,529.6" fill="#fff200" />
<text x="542.5" y="526.7" font-size="5.1" font-weight="bold" text-anchor="end" fill="#231f20" textLength="32.8" lengthAdjust="spacingAndGlyphs" stroke="#231f20" stroke-width="0.25">NO SMOKING</text>
<text x="542.5" y="530.3" font-size="3.4" font-weight="bold" text-anchor="end" fill="#231f20" textLength="29.8" lengthAdjust="spacingAndGlyphs" stroke="#231f20" stroke-width="0.2">WITHIN 100 FT</text>
<rect x="499.2" y="551.7" width="47.4" height="20.8" fill="#d1d3d4" />
<polygon points="501.0,553.8 543.2,553.8 543.2,570.5 507.9,570.5 507.9,561.4 501.0,561.4" fill="#fff200" />
<text x="0.0" y="0.0" font-size="5.1" font-weight="bold" text-anchor="start" fill="#231f20" transform="translate(542.5,564.2) rotate(180)" textLength="32.8" lengthAdjust="spacingAndGlyphs" stroke="#231f20" stroke-width="0.25">NO SMOKING</text>
<text x="0.0" y="0.0" font-size="3.4" font-weight="bold" text-anchor="start" fill="#231f20" transform="translate(542.5,560.6) rotate(180)" textLength="29.8" lengthAdjust="spacingAndGlyphs" stroke="#231f20" stroke-width="0.2">WITHIN 100 FT</text>
<text x="549.5" y="532.3" font-size="9.0" font-weight="bold" text-anchor="start" textLength="14.5" lengthAdjust="spacingAndGlyphs" fill="#231f20" >50R</text>
<text x="550.7" y="565.3" font-size="9.0" font-weight="bold" text-anchor="start" textLength="13.6" lengthAdjust="spacingAndGlyphs" fill="#231f20" >50L</text>
<polygon points="592.8,71.9 610.0,71.9 603.4,209.2 558.5,209.2 577.0,110.2 590.2,107.0" fill="#d1d3d4" />
<polyline points="565.1,204.7 580.9,116.0 591.5,116.0 597.6,77.2 605.2,77.2 597.6,205.2" fill="none" stroke="#231f20" stroke-width="2.3" stroke-linejoin="miter" />
<text x="577.5" y="104.6" font-size="9.0" font-weight="bold" text-anchor="middle" textLength="8.8" lengthAdjust="spacingAndGlyphs" fill="#231f20" >33</text>
<rect x="554.0" y="223.7" width="47.7" height="14.0" fill="#d1d3d4" />
<rect x="556.2" y="225.6" width="43.2" height="10.4" fill="#ffffff" />
<text x="557.3" y="234.4" font-size="9.2" font-weight="bold" text-anchor="start" fill="#231f20" textLength="40.2" lengthAdjust="spacingAndGlyphs" stroke="#231f20" stroke-width="0.5">492033</text>
<rect x="554.0" y="242.6" width="47.7" height="14.0" fill="#d1d3d4" />
<rect x="556.2" y="244.5" width="43.2" height="10.4" fill="#ffffff" />
<text x="557.3" y="253.3" font-size="9.2" font-weight="bold" text-anchor="start" fill="#231f20" textLength="40.2" lengthAdjust="spacingAndGlyphs" stroke="#231f20" stroke-width="0.5">492033</text>
<text x="611.2" y="243.2" font-size="9.0" font-weight="bold" text-anchor="middle" textLength="8.8" lengthAdjust="spacingAndGlyphs" fill="#231f20" >34</text>
<path d="M722.8,24.2 Q750,29.6 777.3,23.9 Q776.6,40 778.2,55.5 C766,39.2 734,39.2 722.2,55.2 Q723.6,40 722.8,24.2 Z" fill="#231f20" stroke="#d1d3d4" stroke-width="4.4" stroke-linejoin="round" paint-order="stroke"/>
<text x="750.0" y="18.8" font-size="9.0" font-weight="bold" text-anchor="middle" textLength="8.8" lengthAdjust="spacingAndGlyphs" fill="#231f20" >40</text>
<polygon points="682.0,59.9 752.1,59.9 752.1,188.4 749.6,188.4" fill="#d1d3d4" />
<polygon points="686.7,64.0 748.2,64.0 748.2,73.6 703.4,73.6 748.2,159.8 748.2,181.3" fill="#231f20" />
<rect x="735.6" y="145.2" width="6.0" height="3.0" fill="#d1d3d4" />
<polygon points="758.0,59.9 839.6,59.9 762.7,188.4 758.0,188.4" fill="#d1d3d4" />
<polygon points="761.0,64.0 832.5,64.0 761.0,182.4 761.0,163.3 814.4,73.6 761.0,73.6" fill="#231f20" />
<g transform="rotate(180 773.75 102.95)">
<text font-size="44.62" font-weight="normal" fill="#231f20" stroke="#231f20" stroke-width="1.0" stroke-linejoin="miter" ><tspan x="763.18" y="118.30" textLength="23.97" lengthAdjust="spacingAndGlyphs">J</tspan></text>
</g>
<text x="0.0" y="0.0" font-size="9.4" font-weight="normal" text-anchor="start" fill="#231f20" transform="translate(809.1,99.5) rotate(180)" textLength="29.8" lengthAdjust="spacingAndGlyphs" stroke="#d1d3d4" stroke-width="1.6" paint-order="stroke">492075</text>
<text x="696.2" y="120.6" font-size="9.0" font-weight="bold" text-anchor="middle" textLength="8.8" lengthAdjust="spacingAndGlyphs" fill="#231f20" >41</text>
<text x="815.4" y="123.0" font-size="9.0" font-weight="bold" text-anchor="middle" textLength="13.2" lengthAdjust="spacingAndGlyphs" fill="#231f20" >41a</text>
<polygon points="692.8,168.3 726.5,189.8 726.5,205.1 695.0,229.0 686.7,220.4 715.2,201.4 715.2,194.4 688.3,177.5" fill="#d1d3d4" />
<polyline points="697.4,176.9 721.3,192.2 721.3,202.9 694.4,221.9" fill="none" stroke="#231f20" stroke-width="1.9" stroke-linejoin="miter" />
<polygon points="817.5,164.6 821.5,172.9 793.9,189.8 793.9,199.6 820.0,212.7 814.4,221.9 781.7,202.6 781.7,185.2" fill="#d1d3d4" />
<polyline points="816.3,171.4 786.9,188.2 786.9,199.6 815.4,214.3" fill="none" stroke="#231f20" stroke-width="1.9" stroke-linejoin="miter" />
<text x="698.1" y="202.7" font-size="9.0" font-weight="bold" text-anchor="middle" textLength="8.8" lengthAdjust="spacingAndGlyphs" fill="#231f20" >42</text>
<text x="813.8" y="196.5" font-size="9.0" font-weight="bold" text-anchor="middle" textLength="8.8" lengthAdjust="spacingAndGlyphs" fill="#231f20" >43</text>
<polygon points="750.0,207.9 754.5,207.9 754.5,336.9 685.4,336.9" fill="#d1d3d4" />
<polygon points="749.9,216.0 749.9,237.0 704.8,323.6 749.9,323.6 749.9,333.2 689.4,333.2" fill="#231f20" />
<rect x="738.0" y="248.3" width="5.2" height="3.1" fill="#d1d3d4" />
<polygon points="759.9,207.9 764.3,207.9 841.3,336.9 759.9,336.9" fill="#d1d3d4" />
<polygon points="762.4,214.3 833.9,333.2 762.4,333.2 762.4,324.1 817.9,324.1 762.4,233.3" fill="#231f20" />
<text font-size="43.31" font-weight="normal" fill="#231f20" stroke="#231f20" stroke-width="1.0" stroke-linejoin="miter" ><tspan x="762.89" y="309.30" textLength="23.72" lengthAdjust="spacingAndGlyphs">J</tspan></text>
<text x="782.1" y="297.5" font-size="8.6" font-weight="normal" text-anchor="start" fill="#231f20" textLength="29.2" lengthAdjust="spacingAndGlyphs" stroke="#d1d3d4" stroke-width="1.6" paint-order="stroke">492075</text>
<text x="710.5" y="261.1" font-size="9.0" font-weight="bold" text-anchor="middle" textLength="8.8" lengthAdjust="spacingAndGlyphs" fill="#231f20" >44</text>
<text x="806.0" y="261.1" font-size="9.0" font-weight="bold" text-anchor="middle" textLength="13.2" lengthAdjust="spacingAndGlyphs" fill="#231f20" >44a</text>
<rect x="718.7" y="367.7" width="16.3" height="22.1" fill="#d1d3d4" />
<polygon points="721.2,370.1 724.2,370.1 721.2,373.1" fill="#fbe91c" />
<polygon points="732.5,370.1 729.5,370.1 732.5,373.1" fill="#fbe91c" />
<polygon points="721.2,387.6 724.2,387.6 721.2,384.6" fill="#fbe91c" />
<polygon points="732.5,387.6 729.5,387.6 732.5,384.6" fill="#fbe91c" />
<path d="M722.2,377.5 Q726.9,376 731.5,377.5" fill="none" stroke="#fbe91c" stroke-width="0.5"/>
<path d="M723.2,379 L730.5,379" fill="none" stroke="#fbe91c" stroke-width="0.4"/>
<rect x="746.0" y="367.7" width="16.3" height="22.1" fill="#d1d3d4" />
<polygon points="748.5,370.1 751.5,370.1 748.5,373.1" fill="#fbe91c" />
<polygon points="759.8,370.1 756.8,370.1 759.8,373.1" fill="#fbe91c" />
<polygon points="748.5,387.6 751.5,387.6 748.5,384.6" fill="#fbe91c" />
<polygon points="759.8,387.6 756.8,387.6 759.8,384.6" fill="#fbe91c" />
<path d="M749.5,377.5 Q754.2,376 758.8,377.5" fill="none" stroke="#fbe91c" stroke-width="0.5"/>
<path d="M750.5,379 L757.8,379" fill="none" stroke="#fbe91c" stroke-width="0.4"/>
<rect x="774.2" y="367.7" width="16.3" height="22.1" fill="#d1d3d4" />
<polygon points="776.7,370.1 779.7,370.1 776.7,373.1" fill="#fbe91c" />
<polygon points="788.0,370.1 785.0,370.1 788.0,373.1" fill="#fbe91c" />
<polygon points="776.7,387.6 779.7,387.6 776.7,384.6" fill="#fbe91c" />
<polygon points="788.0,387.6 785.0,387.6 788.0,384.6" fill="#fbe91c" />
<path d="M777.7,377.5 Q782.4,376 787.0,377.5" fill="none" stroke="#fbe91c" stroke-width="0.5"/>
<path d="M778.7,379 L786.0,379" fill="none" stroke="#fbe91c" stroke-width="0.4"/>
<text x="754.8" y="362.6" font-size="9.0" font-weight="bold" text-anchor="middle" textLength="8.8" lengthAdjust="spacingAndGlyphs" fill="#231f20" >45</text>
<circle cx="732.4" cy="418.0" r="11.5" fill="#d1d3d4"/>
<circle cx="732.4" cy="418.0" r="9.4" fill="#d8d9da" stroke="#ee3d23" stroke-width="1.5"/>
<circle cx="732.4" cy="411.8" r="0.9" fill="#ee3d23"/>
<text x="732.4" y="417.7" font-size="2.3" font-weight="bold" text-anchor="middle" fill="#231f20" textLength="12" lengthAdjust="spacingAndGlyphs" stroke="#231f20" stroke-width="0.25">NOT RELEASE</text>
<text x="732.4" y="420.4" font-size="2.3" font-weight="bold" text-anchor="middle" fill="#231f20" textLength="12" lengthAdjust="spacingAndGlyphs" stroke="#231f20" stroke-width="0.25">PULL HANDLE</text>
<circle cx="775.2" cy="418.0" r="11.5" fill="#d1d3d4"/>
<circle cx="775.2" cy="418.0" r="9.4" fill="#d8d9da" stroke="#ee3d23" stroke-width="1.5"/>
<circle cx="775.2" cy="411.8" r="0.9" fill="#ee3d23"/>
<text x="775.2" y="417.7" font-size="2.3" font-weight="bold" text-anchor="middle" fill="#231f20" textLength="12" lengthAdjust="spacingAndGlyphs" stroke="#231f20" stroke-width="0.25">NOT RELEASE</text>
<text x="775.2" y="420.4" font-size="2.3" font-weight="bold" text-anchor="middle" fill="#231f20" textLength="12" lengthAdjust="spacingAndGlyphs" stroke="#231f20" stroke-width="0.25">PULL HANDLE</text>
<circle cx="714.2" cy="451.6" r="2.8" fill="#f9e33c"/><circle cx="714.2" cy="451.6" r="1.9" fill="#ef5a3a"/>
<path d="M714.2,451.6 L714.2,453.8 M714.2,451.6 L712.4,450.3 M714.2,451.6 L716.0,450.3" stroke="#f9e33c" stroke-width="0.7" fill="none"/>
<circle cx="725.0" cy="451.6" r="2.8" fill="#f9e33c"/><circle cx="725.0" cy="451.6" r="1.9" fill="#ef5a3a"/>
<path d="M725.0,451.6 L725.0,453.8 M725.0,451.6 L723.2,450.3 M725.0,451.6 L726.8,450.3" stroke="#f9e33c" stroke-width="0.7" fill="none"/>
<circle cx="736.4" cy="451.6" r="2.8" fill="#f9e33c"/><circle cx="736.4" cy="451.6" r="1.9" fill="#ef5a3a"/>
<path d="M736.4,451.6 L736.4,453.8 M736.4,451.6 L734.6,450.3 M736.4,451.6 L738.2,450.3" stroke="#f9e33c" stroke-width="0.7" fill="none"/>
<circle cx="747.3" cy="451.6" r="2.8" fill="#f9e33c"/><circle cx="747.3" cy="451.6" r="1.9" fill="#ef5a3a"/>
<path d="M747.3,451.6 L747.3,453.8 M747.3,451.6 L745.5,450.3 M747.3,451.6 L749.1,450.3" stroke="#f9e33c" stroke-width="0.7" fill="none"/>
<circle cx="758.2" cy="451.6" r="2.8" fill="#f9e33c"/><circle cx="758.2" cy="451.6" r="1.9" fill="#ef5a3a"/>
<path d="M758.2,451.6 L758.2,453.8 M758.2,451.6 L756.4,450.3 M758.2,451.6 L760.0,450.3" stroke="#f9e33c" stroke-width="0.7" fill="none"/>
<circle cx="769.7" cy="451.6" r="2.8" fill="#f9e33c"/><circle cx="769.7" cy="451.6" r="1.9" fill="#ef5a3a"/>
<path d="M769.7,451.6 L769.7,453.8 M769.7,451.6 L767.9,450.3 M769.7,451.6 L771.5,450.3" stroke="#f9e33c" stroke-width="0.7" fill="none"/>
<circle cx="781.3" cy="451.6" r="2.8" fill="#f9e33c"/><circle cx="781.3" cy="451.6" r="1.9" fill="#ef5a3a"/>
<path d="M781.3,451.6 L781.3,453.8 M781.3,451.6 L779.5,450.3 M781.3,451.6 L783.1,450.3" stroke="#f9e33c" stroke-width="0.7" fill="none"/>
<circle cx="792.3" cy="451.6" r="2.8" fill="#f9e33c"/><circle cx="792.3" cy="451.6" r="1.9" fill="#ef5a3a"/>
<path d="M792.3,451.6 L792.3,453.8 M792.3,451.6 L790.5,450.3 M792.3,451.6 L794.1,450.3" stroke="#f9e33c" stroke-width="0.7" fill="none"/>
<circle cx="803.3" cy="451.6" r="2.8" fill="#f9e33c"/><circle cx="803.3" cy="451.6" r="1.9" fill="#ef5a3a"/>
<path d="M803.3,451.6 L803.3,453.8 M803.3,451.6 L801.5,450.3 M803.3,451.6 L805.1,450.3" stroke="#f9e33c" stroke-width="0.7" fill="none"/>
<circle cx="814.4" cy="451.6" r="2.8" fill="#f9e33c"/><circle cx="814.4" cy="451.6" r="1.9" fill="#ef5a3a"/>
<path d="M814.4,451.6 L814.4,453.8 M814.4,451.6 L812.6,450.3 M814.4,451.6 L816.2,450.3" stroke="#f9e33c" stroke-width="0.7" fill="none"/>
<circle cx="714.2" cy="466.9" r="2.8" fill="#f9e33c"/><circle cx="714.2" cy="466.9" r="1.9" fill="#ef5a3a"/>
<path d="M714.2,466.9 L714.2,469.1 M714.2,466.9 L712.4,465.6 M714.2,466.9 L716.0,465.6" stroke="#f9e33c" stroke-width="0.7" fill="none"/>
<circle cx="725.0" cy="466.9" r="2.8" fill="#f9e33c"/><circle cx="725.0" cy="466.9" r="1.9" fill="#ef5a3a"/>
<path d="M725.0,466.9 L725.0,469.1 M725.0,466.9 L723.2,465.6 M725.0,466.9 L726.8,465.6" stroke="#f9e33c" stroke-width="0.7" fill="none"/>
<circle cx="736.4" cy="466.9" r="2.8" fill="#f9e33c"/><circle cx="736.4" cy="466.9" r="1.9" fill="#ef5a3a"/>
<path d="M736.4,466.9 L736.4,469.1 M736.4,466.9 L734.6,465.6 M736.4,466.9 L738.2,465.6" stroke="#f9e33c" stroke-width="0.7" fill="none"/>
<circle cx="747.3" cy="466.9" r="2.8" fill="#f9e33c"/><circle cx="747.3" cy="466.9" r="1.9" fill="#ef5a3a"/>
<path d="M747.3,466.9 L747.3,469.1 M747.3,466.9 L745.5,465.6 M747.3,466.9 L749.1,465.6" stroke="#f9e33c" stroke-width="0.7" fill="none"/>
<circle cx="758.2" cy="466.9" r="2.8" fill="#f9e33c"/><circle cx="758.2" cy="466.9" r="1.9" fill="#ef5a3a"/>
<path d="M758.2,466.9 L758.2,469.1 M758.2,466.9 L756.4,465.6 M758.2,466.9 L760.0,465.6" stroke="#f9e33c" stroke-width="0.7" fill="none"/>
<circle cx="769.7" cy="466.9" r="2.8" fill="#f9e33c"/><circle cx="769.7" cy="466.9" r="1.9" fill="#ef5a3a"/>
<path d="M769.7,466.9 L769.7,469.1 M769.7,466.9 L767.9,465.6 M769.7,466.9 L771.5,465.6" stroke="#f9e33c" stroke-width="0.7" fill="none"/>
<circle cx="781.3" cy="466.9" r="2.8" fill="#f9e33c"/><circle cx="781.3" cy="466.9" r="1.9" fill="#ef5a3a"/>
<path d="M781.3,466.9 L781.3,469.1 M781.3,466.9 L779.5,465.6 M781.3,466.9 L783.1,465.6" stroke="#f9e33c" stroke-width="0.7" fill="none"/>
<circle cx="792.3" cy="466.9" r="2.8" fill="#f9e33c"/><circle cx="792.3" cy="466.9" r="1.9" fill="#ef5a3a"/>
<path d="M792.3,466.9 L792.3,469.1 M792.3,466.9 L790.5,465.6 M792.3,466.9 L794.1,465.6" stroke="#f9e33c" stroke-width="0.7" fill="none"/>
<circle cx="803.3" cy="466.9" r="2.8" fill="#f9e33c"/><circle cx="803.3" cy="466.9" r="1.9" fill="#ef5a3a"/>
<path d="M803.3,466.9 L803.3,469.1 M803.3,466.9 L801.5,465.6 M803.3,466.9 L805.1,465.6" stroke="#f9e33c" stroke-width="0.7" fill="none"/>
<circle cx="814.4" cy="466.9" r="2.8" fill="#f9e33c"/><circle cx="814.4" cy="466.9" r="1.9" fill="#ef5a3a"/>
<path d="M814.4,466.9 L814.4,469.1 M814.4,466.9 L812.6,465.6 M814.4,466.9 L816.2,465.6" stroke="#f9e33c" stroke-width="0.7" fill="none"/>
<text x="763.8" y="462.1" font-size="9.0" font-weight="bold" text-anchor="middle" textLength="8.8" lengthAdjust="spacingAndGlyphs" fill="#231f20" >47</text>
<rect x="696.4" y="497.3" width="64.3" height="16.3" rx="1.5" fill="#d1d3d4"/>
<circle cx="728.5" cy="505.7" r="18.7" fill="#d1d3d4"/>
<rect x="698.7" y="499.7" width="59.6" height="11.5" fill="#2e3192"/>
<rect x="700.5" y="501.4" width="56.1" height="8" fill="#ffffff"/>
<rect x="700.5" y="504.0" width="56.1" height="2.6" fill="#ed1c24"/>
<circle cx="728.5" cy="505.7" r="16.3" fill="#2e3192"/>
<polygon points="728.5,491.1 731.9,501.5 742.8,501.5 733.9,507.9 737.3,518.2 728.5,511.8 719.7,518.2 723.1,507.9 714.2,501.5 725.1,501.5" fill="#ffffff" />
<rect x="773.1" y="497.3" width="64.3" height="16.3" rx="1.5" fill="#d1d3d4"/>
<circle cx="805.2" cy="505.7" r="18.7" fill="#d1d3d4"/>
<rect x="775.4" y="499.7" width="59.6" height="11.5" fill="#2e3192"/>
<rect x="777.2" y="501.4" width="56.1" height="8" fill="#ffffff"/>
<rect x="777.2" y="504.0" width="56.1" height="2.6" fill="#ed1c24"/>
<circle cx="805.2" cy="505.7" r="16.3" fill="#2e3192"/>
<polygon points="805.2,491.1 808.6,501.5 819.5,501.5 810.6,507.9 814.0,518.2 805.2,511.8 796.4,518.2 799.8,507.9 790.9,501.5 801.8,501.5" fill="#ffffff" />
<rect x="696.4" y="549.2" width="64.3" height="16.3" rx="1.5" fill="#d1d3d4"/>
<circle cx="728.5" cy="557.6" r="18.7" fill="#d1d3d4"/>
<rect x="698.7" y="551.6" width="59.6" height="11.5" fill="#2e3192"/>
<rect x="700.5" y="553.3" width="56.1" height="8" fill="#ffffff"/>
<rect x="700.5" y="555.9" width="56.1" height="2.6" fill="#ed1c24"/>
<circle cx="728.5" cy="557.6" r="16.3" fill="#2e3192"/>
<polygon points="728.5,543.0 731.9,553.4 742.8,553.4 733.9,559.8 737.3,570.1 728.5,563.7 719.7,570.1 723.1,559.8 714.2,553.4 725.1,553.4" fill="#ffffff" />
<rect x="773.1" y="549.2" width="64.3" height="16.3" rx="1.5" fill="#d1d3d4"/>
<circle cx="805.2" cy="557.6" r="18.7" fill="#d1d3d4"/>
<rect x="775.4" y="551.6" width="59.6" height="11.5" fill="#2e3192"/>
<rect x="777.2" y="553.3" width="56.1" height="8" fill="#ffffff"/>
<rect x="777.2" y="555.9" width="56.1" height="2.6" fill="#ed1c24"/>
<circle cx="805.2" cy="557.6" r="16.3" fill="#2e3192"/>
<polygon points="805.2,543.0 808.6,553.4 819.5,553.4 810.6,559.8 814.0,570.1 805.2,563.7 796.4,570.1 799.8,559.8 790.9,553.4 801.8,553.4" fill="#ffffff" />
<text x="768.5" y="534.2" font-size="9.0" font-weight="bold" text-anchor="middle" textLength="8.8" lengthAdjust="spacingAndGlyphs" fill="#231f20" >52</text>
<path d="M590.0,532.2 L591.9,503 Q592.1,497.8 597.1,497.8 L606.7,497.8 Q611.7,497.8 611.9,503 L613.9,532.2 Z" fill="#d1d3d4"/>
<rect x="593.8" y="499.6" width="16" height="4" rx="2" fill="#ffffff" stroke="#231f20" stroke-width="0.4"/>
<path d="M601.8,498.2 L601.8,505.2 M600.3,500.2 L603.3,500.2" stroke="#231f20" stroke-width="0.9" fill="none"/>
<rect x="595.0" y="506" width="13.4" height="1.5" fill="#231f20"/>
<rect x="597.0" y="506.3" width="2" height="0.9" fill="#f5e61d"/><rect x="600.7" y="506.3" width="2" height="0.9" fill="#f5e61d"/><rect x="604.4" y="506.3" width="2" height="0.9" fill="#f5e61d"/>
<path d="M593.4,509.1 L610.1,509.1 L610.1,521 Q609.9,525.8 601.8,525.8 Q593.6,525.8 593.4,521 Z" fill="#231f20"/>
<polygon points="593.9,509.6 598.6,509.6 609.7,521.5 605.7,524.6 593.9,513.4" fill="#f5e61d"/>
<path d="M596.3,512.4 l2.4,2.4 M598.7,512.4 l-2.4,2.4" stroke="#231f20" stroke-width="0.8" fill="none"/>
<path d="M600.2,516.0 l2.4,2.4 M602.6,516.0 l-2.4,2.4" stroke="#231f20" stroke-width="0.8" fill="none"/>
<path d="M604.1,519.6 l2.4,2.4 M606.5,519.6 l-2.4,2.4" stroke="#231f20" stroke-width="0.8" fill="none"/>
<rect x="591.1" y="527.2" width="21.4" height="3.9" fill="#231f20"/>
<line x1="593.9" y1="529.2" x2="609.9" y2="529.2" stroke="#f5e61d" stroke-width="1.1" stroke-dasharray="1.2 0.4 0.8 0.4 1.5 0.4"/>
<path d="M640.1,532.2 L642.0,503 Q642.2,497.8 647.2,497.8 L656.8,497.8 Q661.8,497.8 662.0,503 L664.0,532.2 Z" fill="#d1d3d4"/>
<rect x="643.9" y="499.6" width="16" height="4" rx="2" fill="#ffffff" stroke="#231f20" stroke-width="0.4"/>
<path d="M651.9,498.2 L651.9,505.2 M650.4,500.2 L653.4,500.2" stroke="#231f20" stroke-width="0.9" fill="none"/>
<rect x="645.1" y="506" width="13.4" height="1.5" fill="#231f20"/>
<rect x="647.1" y="506.3" width="2" height="0.9" fill="#f5e61d"/><rect x="650.8" y="506.3" width="2" height="0.9" fill="#f5e61d"/><rect x="654.5" y="506.3" width="2" height="0.9" fill="#f5e61d"/>
<path d="M643.5,509.1 L660.2,509.1 L660.2,521 Q660.0,525.8 651.9,525.8 Q643.7,525.8 643.5,521 Z" fill="#231f20"/>
<polygon points="644.0,509.6 648.7,509.6 659.8,521.5 655.8,524.6 644.0,513.4" fill="#f5e61d"/>
<path d="M646.4,512.4 l2.4,2.4 M648.8,512.4 l-2.4,2.4" stroke="#231f20" stroke-width="0.8" fill="none"/>
<path d="M650.3,516.0 l2.4,2.4 M652.7,516.0 l-2.4,2.4" stroke="#231f20" stroke-width="0.8" fill="none"/>
<path d="M654.2,519.6 l2.4,2.4 M656.6,519.6 l-2.4,2.4" stroke="#231f20" stroke-width="0.8" fill="none"/>
<rect x="641.2" y="527.2" width="21.4" height="3.9" fill="#231f20"/>
<line x1="644.0" y1="529.2" x2="660.0" y2="529.2" stroke="#f5e61d" stroke-width="1.1" stroke-dasharray="1.2 0.4 0.8 0.4 1.5 0.4"/>
<text x="629.8" y="532.6" font-size="9.0" font-weight="bold" text-anchor="middle" textLength="8.8" lengthAdjust="spacingAndGlyphs" fill="#231f20" >48</text>
<circle cx="602.4" cy="556.4" r="16.9" fill="#d1d3d4"/>
<circle cx="602.4" cy="556.4" r="15.6" fill="#231f20"/>
<path d="M598.9,543.9 Q588.9,547.4 588.4,557.4 Q588.9,565.9 597.4,569.4 Q602.4,566.9 607.4,569.4 Q615.9,565.9 616.4,557.4 Q615.9,547.4 605.9,543.9 Q602.4,549.4 598.9,543.9 Z" fill="#f8e71c"/>
<path d="M598.6,542.9 L602.4,547.9 L606.2,542.9 Z" fill="#231f20"/>
<circle cx="602.4" cy="551.4" r="6.6" fill="#231f20"/>
<circle cx="602.4" cy="551.4" r="4.4" fill="#231f20" stroke="#f8e71c" stroke-width="2.2"/>
<circle cx="602.4" cy="562.8" r="5.6" fill="#231f20"/>
<circle cx="602.4" cy="562.8" r="3.8" fill="#231f20" stroke="#f8e71c" stroke-width="1.5"/>
<polygon points="602.4,559.8 603.2,561.8 605.3,561.9 603.6,563.3 604.2,565.4 602.4,564.2 600.6,565.4 601.2,563.3 599.5,561.9 601.6,561.8" fill="#ffffff" />
<circle cx="602.4" cy="562.9" r="0.9" fill="#ed1c24"/>
<circle cx="658.7" cy="556.4" r="16.9" fill="#d1d3d4"/>
<circle cx="658.7" cy="556.4" r="15.6" fill="#231f20"/>
<path d="M655.2,543.9 Q645.2,547.4 644.7,557.4 Q645.2,565.9 653.7,569.4 Q658.7,566.9 663.7,569.4 Q672.2,565.9 672.7,557.4 Q672.2,547.4 662.2,543.9 Q658.7,549.4 655.2,543.9 Z" fill="#f8e71c"/>
<path d="M654.9,542.9 L658.7,547.9 L662.5,542.9 Z" fill="#231f20"/>
<circle cx="658.7" cy="551.4" r="6.6" fill="#231f20"/>
<circle cx="658.7" cy="551.4" r="4.4" fill="#231f20" stroke="#f8e71c" stroke-width="2.2"/>
<circle cx="658.7" cy="562.8" r="5.6" fill="#231f20"/>
<circle cx="658.7" cy="562.8" r="3.8" fill="#231f20" stroke="#f8e71c" stroke-width="1.5"/>
<polygon points="658.7,559.8 659.5,561.8 661.6,561.9 659.9,563.3 660.5,565.4 658.7,564.2 656.9,565.4 657.5,563.3 655.8,561.9 657.9,561.8" fill="#ffffff" />
<circle cx="658.7" cy="562.9" r="0.9" fill="#ed1c24"/>
<text x="629.8" y="565.9" font-size="9.0" font-weight="bold" text-anchor="middle" textLength="8.8" lengthAdjust="spacingAndGlyphs" fill="#231f20" >51</text>
<text transform="translate(76.5,171.4) rotate(-104.0)" x="0" y="1.08" font-size="3.0" font-weight="bold" text-anchor="middle" textLength="12.3" lengthAdjust="spacingAndGlyphs" fill="#231f20" stroke="#231f20" stroke-width="0.25">NO STEP</text>
<text transform="translate(95.8,248.8) rotate(-104.0)" x="0" y="1.08" font-size="3.0" font-weight="bold" text-anchor="middle" textLength="12.3" lengthAdjust="spacingAndGlyphs" fill="#231f20" stroke="#231f20" stroke-width="0.25">NO STEP</text>
<text transform="translate(120.9,349.3) rotate(-104.0)" x="0" y="1.08" font-size="3.0" font-weight="bold" text-anchor="middle" textLength="12.3" lengthAdjust="spacingAndGlyphs" fill="#231f20" stroke="#231f20" stroke-width="0.25">NO STEP</text>
<text transform="translate(141.5,432.0) rotate(-104.0)" x="0" y="1.08" font-size="3.0" font-weight="bold" text-anchor="middle" textLength="12.3" lengthAdjust="spacingAndGlyphs" fill="#231f20" stroke="#231f20" stroke-width="0.25">NO STEP</text>
<text transform="translate(163.5,520.3) rotate(-104.0)" x="0" y="1.08" font-size="3.0" font-weight="bold" text-anchor="middle" textLength="12.3" lengthAdjust="spacingAndGlyphs" fill="#231f20" stroke="#231f20" stroke-width="0.25">NO STEP</text>
<g transform="translate(88.8,171.0) rotate(-14.0)" fill="none" stroke="#231f20"><rect x="-3.6" y="-3.6" width="7.2" height="7.2" stroke-width="0.9" fill="#e6e7e8"/><rect x="-2.1" y="-2.2" width="4.3" height="4.5" stroke-width="0.6"/><path d="M-2,0.2 L2.2,0.2 M-0.4,-2.2 L-0.4,2.2" stroke-width="0.45"/></g>
<g transform="translate(106.4,249.0) rotate(-14.0)" fill="none" stroke="#231f20"><rect x="-3.6" y="-3.6" width="7.2" height="7.2" stroke-width="0.9" fill="#e6e7e8"/><rect x="-2.1" y="-2.2" width="4.3" height="4.5" stroke-width="0.6"/><path d="M-2,0.2 L2.2,0.2 M-0.4,-2.2 L-0.4,2.2" stroke-width="0.45"/></g>
<g transform="translate(125.7,324.3) rotate(-14.0)" fill="none" stroke="#231f20"><rect x="-3.6" y="-3.6" width="7.2" height="7.2" stroke-width="0.9" fill="#e6e7e8"/><rect x="-2.1" y="-2.2" width="4.3" height="4.5" stroke-width="0.6"/><path d="M-2,0.2 L2.2,0.2 M-0.4,-2.2 L-0.4,2.2" stroke-width="0.45"/></g>
<g transform="translate(164.6,474.8) rotate(-14.0)" fill="none" stroke="#231f20"><rect x="-3.6" y="-3.6" width="7.2" height="7.2" stroke-width="0.9" fill="#e6e7e8"/><rect x="-2.1" y="-2.2" width="4.3" height="4.5" stroke-width="0.6"/><path d="M-2,0.2 L2.2,0.2 M-0.4,-2.2 L-0.4,2.2" stroke-width="0.45"/></g>
<g transform="translate(174.2,519.2) rotate(-14.0)" fill="none" stroke="#231f20"><rect x="-3.6" y="-3.6" width="7.2" height="7.2" stroke-width="0.9" fill="#e6e7e8"/><rect x="-2.1" y="-2.2" width="4.3" height="4.5" stroke-width="0.6"/><path d="M-2,0.2 L2.2,0.2 M-0.4,-2.2 L-0.4,2.2" stroke-width="0.45"/></g>
<text transform="translate(461.4,64.0) rotate(-76.1)" x="0" y="1.08" font-size="3.0" font-weight="bold" text-anchor="middle" textLength="12.3" lengthAdjust="spacingAndGlyphs" fill="#231f20" stroke="#231f20" stroke-width="0.25">NO STEP</text>
<text transform="translate(439.7,151.7) rotate(-76.1)" x="0" y="1.08" font-size="3.0" font-weight="bold" text-anchor="middle" textLength="12.3" lengthAdjust="spacingAndGlyphs" fill="#231f20" stroke="#231f20" stroke-width="0.25">NO STEP</text>
<text transform="translate(419.6,232.7) rotate(-76.1)" x="0" y="1.08" font-size="3.0" font-weight="bold" text-anchor="middle" textLength="12.3" lengthAdjust="spacingAndGlyphs" fill="#231f20" stroke="#231f20" stroke-width="0.25">NO STEP</text>
<text transform="translate(394.5,334.3) rotate(-76.1)" x="0" y="1.08" font-size="3.0" font-weight="bold" text-anchor="middle" textLength="12.3" lengthAdjust="spacingAndGlyphs" fill="#231f20" stroke="#231f20" stroke-width="0.25">NO STEP</text>
<text transform="translate(376.5,407.0) rotate(-76.1)" x="0" y="1.08" font-size="3.0" font-weight="bold" text-anchor="middle" textLength="12.3" lengthAdjust="spacingAndGlyphs" fill="#231f20" stroke="#231f20" stroke-width="0.25">NO STEP</text>
<g transform="translate(472.0,67.5) rotate(13.9)" fill="none" stroke="#231f20"><rect x="-3.6" y="-3.6" width="7.2" height="7.2" stroke-width="0.9" fill="#e6e7e8"/><rect x="-2.1" y="-2.2" width="4.3" height="4.5" stroke-width="0.6"/><path d="M-2,0.2 L2.2,0.2 M-0.4,-2.2 L-0.4,2.2" stroke-width="0.45"/></g>
<g transform="translate(463.7,106.0) rotate(13.9)" fill="none" stroke="#231f20"><rect x="-3.6" y="-3.6" width="7.2" height="7.2" stroke-width="0.9" fill="#e6e7e8"/><rect x="-2.1" y="-2.2" width="4.3" height="4.5" stroke-width="0.6"/><path d="M-2,0.2 L2.2,0.2 M-0.4,-2.2 L-0.4,2.2" stroke-width="0.45"/></g>
<g transform="translate(428.3,255.7) rotate(13.9)" fill="none" stroke="#231f20"><rect x="-3.6" y="-3.6" width="7.2" height="7.2" stroke-width="0.9" fill="#e6e7e8"/><rect x="-2.1" y="-2.2" width="4.3" height="4.5" stroke-width="0.6"/><path d="M-2,0.2 L2.2,0.2 M-0.4,-2.2 L-0.4,2.2" stroke-width="0.45"/></g>
<g transform="translate(408.1,334.5) rotate(13.9)" fill="none" stroke="#231f20"><rect x="-3.6" y="-3.6" width="7.2" height="7.2" stroke-width="0.9" fill="#e6e7e8"/><rect x="-2.1" y="-2.2" width="4.3" height="4.5" stroke-width="0.6"/><path d="M-2,0.2 L2.2,0.2 M-0.4,-2.2 L-0.4,2.2" stroke-width="0.45"/></g>
<g transform="translate(390.1,412.6) rotate(13.9)" fill="none" stroke="#231f20"><rect x="-3.6" y="-3.6" width="7.2" height="7.2" stroke-width="0.9" fill="#e6e7e8"/><rect x="-2.1" y="-2.2" width="4.3" height="4.5" stroke-width="0.6"/><path d="M-2,0.2 L2.2,0.2 M-0.4,-2.2 L-0.4,2.2" stroke-width="0.45"/></g>
<text transform="translate(106.8,30.2) rotate(80.9)" x="0" y="1.08" font-size="3.0" font-weight="bold" text-anchor="middle" textLength="12.3" lengthAdjust="spacingAndGlyphs" fill="#231f20" stroke="#231f20" stroke-width="0.25">NO STEP</text>
<text transform="translate(115.2,82.0) rotate(80.9)" x="0" y="1.08" font-size="3.0" font-weight="bold" text-anchor="middle" textLength="12.3" lengthAdjust="spacingAndGlyphs" fill="#231f20" stroke="#231f20" stroke-width="0.25">NO STEP</text>
<text transform="translate(122.5,127.2) rotate(80.9)" x="0" y="1.08" font-size="3.0" font-weight="bold" text-anchor="middle" textLength="12.3" lengthAdjust="spacingAndGlyphs" fill="#231f20" stroke="#231f20" stroke-width="0.25">NO STEP</text>
<line x1="110.4" y1="45.7" x2="114.1" y2="68.3" stroke="#231f20" stroke-width="1.0" stroke-dasharray="1.1 0.6" opacity="0.9"/>
<line x1="118.1" y1="93.3" x2="121.8" y2="116.0" stroke="#231f20" stroke-width="1.0" stroke-dasharray="1.1 0.6" opacity="0.9"/>
<text transform="translate(143.3,134.6) rotate(0.0)" x="0" y="1.08" font-size="3.0" font-weight="bold" text-anchor="middle" textLength="12.3" lengthAdjust="spacingAndGlyphs" fill="#231f20" stroke="#231f20" stroke-width="0.25">NO STEP</text>
<g transform="translate(130.0,159.6) rotate(80.0)" font-size="2.8" font-weight="bold" text-anchor="middle" fill="#231f20" stroke="#231f20" stroke-width="0.2"><text x="0" y="-0.3">NO</text><text x="0" y="2.4">STEP</text></g>
<text transform="translate(150.0,156.8) rotate(180.0)" x="0" y="1.08" font-size="3.0" font-weight="bold" text-anchor="middle" textLength="12.3" lengthAdjust="spacingAndGlyphs" fill="#231f20" stroke="#231f20" stroke-width="0.25">NO STEP</text>
<g transform="translate(138.8,210.8) rotate(80.0)" font-size="2.8" font-weight="bold" text-anchor="middle" fill="#231f20" stroke="#231f20" stroke-width="0.2"><text x="0" y="-0.3">NO</text><text x="0" y="2.4">STEP</text></g>
<text transform="translate(156.3,213.8) rotate(0.0)" x="0" y="1.08" font-size="3.0" font-weight="bold" text-anchor="middle" textLength="12.3" lengthAdjust="spacingAndGlyphs" fill="#231f20" stroke="#231f20" stroke-width="0.25">NO STEP</text>
<g transform="translate(147.2,238.6) rotate(82.0)" font-size="2.8" font-weight="bold" text-anchor="middle" fill="#231f20" stroke="#231f20" stroke-width="0.2"><text x="0" y="-0.3">NO</text><text x="0" y="2.4">STEP</text></g>
<g transform="translate(156.0,289.4) rotate(82.0)" font-size="2.8" font-weight="bold" text-anchor="middle" fill="#231f20" stroke="#231f20" stroke-width="0.2"><text x="0" y="-0.3">NO</text><text x="0" y="2.4">STEP</text></g>
<text transform="translate(168.8,292.3) rotate(0.0)" x="0" y="1.08" font-size="3.0" font-weight="bold" text-anchor="middle" textLength="12.3" lengthAdjust="spacingAndGlyphs" fill="#231f20" stroke="#231f20" stroke-width="0.25">NO STEP</text>
<text transform="translate(160.8,346.9) rotate(-104.2)" x="0" y="1.08" font-size="3.0" font-weight="bold" text-anchor="middle" textLength="12.3" lengthAdjust="spacingAndGlyphs" fill="#231f20" stroke="#231f20" stroke-width="0.25">NO STEP</text>
<text transform="translate(173.9,398.8) rotate(-104.2)" x="0" y="1.08" font-size="3.0" font-weight="bold" text-anchor="middle" textLength="12.3" lengthAdjust="spacingAndGlyphs" fill="#231f20" stroke="#231f20" stroke-width="0.25">NO STEP</text>
<text transform="translate(189.9,462.0) rotate(-104.2)" x="0" y="1.08" font-size="3.0" font-weight="bold" text-anchor="middle" textLength="12.3" lengthAdjust="spacingAndGlyphs" fill="#231f20" stroke="#231f20" stroke-width="0.25">NO STEP</text>
<text transform="translate(213.0,553.7) rotate(-104.2)" x="0" y="1.08" font-size="3.0" font-weight="bold" text-anchor="middle" textLength="12.3" lengthAdjust="spacingAndGlyphs" fill="#231f20" stroke="#231f20" stroke-width="0.25">NO STEP</text>
<text transform="translate(212.2,380.0) rotate(-99.9)" x="0" y="1.08" font-size="3.0" font-weight="bold" text-anchor="middle" textLength="12.3" lengthAdjust="spacingAndGlyphs" fill="#231f20" stroke="#231f20" stroke-width="0.25">NO STEP</text>
<text transform="translate(228.9,475.3) rotate(-99.9)" x="0" y="1.08" font-size="3.0" font-weight="bold" text-anchor="middle" textLength="12.3" lengthAdjust="spacingAndGlyphs" fill="#231f20" stroke="#231f20" stroke-width="0.25">NO STEP</text>
<text transform="translate(243.0,556.0) rotate(-99.9)" x="0" y="1.08" font-size="3.0" font-weight="bold" text-anchor="middle" textLength="12.3" lengthAdjust="spacingAndGlyphs" fill="#231f20" stroke="#231f20" stroke-width="0.25">NO STEP</text>
<line x1="206.0" y1="346.0" x2="209.7" y2="367.0" stroke="#231f20" stroke-width="1.0" stroke-dasharray="1.1 0.6" opacity="0.9"/>
<line x1="216.4" y1="405.0" x2="220.4" y2="428.0" stroke="#231f20" stroke-width="1.0" stroke-dasharray="1.1 0.6" opacity="0.9"/>
<line x1="233.3" y1="502.0" x2="237.4" y2="525.0" stroke="#231f20" stroke-width="1.0" stroke-dasharray="1.1 0.6" opacity="0.9"/>
<text transform="translate(215.6,329.6) rotate(180.0)" x="0" y="1.08" font-size="3.0" font-weight="bold" text-anchor="middle" textLength="12.3" lengthAdjust="spacingAndGlyphs" fill="#231f20" stroke="#231f20" stroke-width="0.25">NO STEP</text>
<g transform="translate(255.6,336.5) rotate(80.0)" font-size="2.8" font-weight="bold" text-anchor="middle" fill="#231f20" stroke="#231f20" stroke-width="0.2"><text x="0" y="-0.3">NO</text><text x="0" y="2.4">STEP</text></g>
<g transform="translate(276.8,336.5) rotate(-94.0)" font-size="2.8" font-weight="bold" text-anchor="middle" fill="#231f20" stroke="#231f20" stroke-width="0.2"><text x="0" y="-0.3">NO</text><text x="0" y="2.4">STEP</text></g>
<line x1="258.5" y1="363.0" x2="262.5" y2="386.0" stroke="#231f20" stroke-width="1.0" stroke-dasharray="1.1 0.6" opacity="0.9"/>
<g transform="translate(271.5,413.6) rotate(0.0)" font-size="2.6" font-weight="bold" text-anchor="middle" fill="#231f20" stroke="#231f20" stroke-width="0.2"><text x="0" y="-0.3">NO</text><text x="0" y="2.2">STEP</text></g>
<g transform="translate(286.0,441.0) rotate(-94.0)" font-size="2.8" font-weight="bold" text-anchor="middle" fill="#231f20" stroke="#231f20" stroke-width="0.2"><text x="0" y="-0.3">NO</text><text x="0" y="2.4">STEP</text></g>
<text transform="translate(508.9,38.3) rotate(103.9)" x="0" y="1.08" font-size="3.0" font-weight="bold" text-anchor="middle" textLength="12.3" lengthAdjust="spacingAndGlyphs" fill="#231f20" stroke="#231f20" stroke-width="0.25">NO STEP</text>
<text transform="translate(486.3,130.0) rotate(103.9)" x="0" y="1.08" font-size="3.0" font-weight="bold" text-anchor="middle" textLength="12.3" lengthAdjust="spacingAndGlyphs" fill="#231f20" stroke="#231f20" stroke-width="0.25">NO STEP</text>
<text transform="translate(471.1,191.7) rotate(103.9)" x="0" y="1.08" font-size="3.0" font-weight="bold" text-anchor="middle" textLength="12.3" lengthAdjust="spacingAndGlyphs" fill="#231f20" stroke="#231f20" stroke-width="0.25">NO STEP</text>
<text transform="translate(457.6,246.0) rotate(103.9)" x="0" y="1.08" font-size="3.0" font-weight="bold" text-anchor="middle" textLength="12.3" lengthAdjust="spacingAndGlyphs" fill="#231f20" stroke="#231f20" stroke-width="0.25">NO STEP</text>
<text transform="translate(540.1,30.0) rotate(100.1)" x="0" y="1.08" font-size="3.0" font-weight="bold" text-anchor="middle" textLength="12.3" lengthAdjust="spacingAndGlyphs" fill="#231f20" stroke="#231f20" stroke-width="0.25">NO STEP</text>
<text transform="translate(525.0,115.0) rotate(100.1)" x="0" y="1.08" font-size="3.0" font-weight="bold" text-anchor="middle" textLength="12.3" lengthAdjust="spacingAndGlyphs" fill="#231f20" stroke="#231f20" stroke-width="0.25">NO STEP</text>
<text transform="translate(508.8,206.0) rotate(100.1)" x="0" y="1.08" font-size="3.0" font-weight="bold" text-anchor="middle" textLength="12.3" lengthAdjust="spacingAndGlyphs" fill="#231f20" stroke="#231f20" stroke-width="0.25">NO STEP</text>
<line x1="533.6" y1="62.0" x2="529.2" y2="87.0" stroke="#231f20" stroke-width="1.0" stroke-dasharray="1.1 0.6" opacity="0.9"/>
<line x1="516.2" y1="160.0" x2="512.1" y2="183.0" stroke="#231f20" stroke-width="1.0" stroke-dasharray="1.1 0.6" opacity="0.9"/>
<line x1="505.1" y1="222.0" x2="501.0" y2="245.0" stroke="#231f20" stroke-width="1.0" stroke-dasharray="1.1 0.6" opacity="0.9"/>
<text transform="translate(512.0,261.8) rotate(0.0)" x="0" y="1.08" font-size="3.0" font-weight="bold" text-anchor="middle" textLength="12.3" lengthAdjust="spacingAndGlyphs" fill="#231f20" stroke="#231f20" stroke-width="0.25">NO STEP</text>
<g transform="translate(441.3,300.0) rotate(98.0)" font-size="2.8" font-weight="bold" text-anchor="middle" fill="#231f20" stroke="#231f20" stroke-width="0.2"><text x="0" y="-0.3">NO</text><text x="0" y="2.4">STEP</text></g>
<text transform="translate(452.0,296.5) rotate(180.0)" x="0" y="1.01" font-size="2.8" font-weight="bold" text-anchor="middle" textLength="11.5" lengthAdjust="spacingAndGlyphs" fill="#231f20" stroke="#231f20" stroke-width="0.25">NO STEP</text>
<g transform="translate(432.5,350.0) rotate(98.0)" font-size="2.8" font-weight="bold" text-anchor="middle" fill="#231f20" stroke="#231f20" stroke-width="0.2"><text x="0" y="-0.3">NO</text><text x="0" y="2.4">STEP</text></g>
<g transform="translate(430.5,376.0) rotate(98.0)" font-size="2.8" font-weight="bold" text-anchor="middle" fill="#231f20" stroke="#231f20" stroke-width="0.2"><text x="0" y="-0.3">NO</text><text x="0" y="2.4">STEP</text></g>
<text transform="translate(444.0,375.3) rotate(180.0)" x="0" y="1.01" font-size="2.8" font-weight="bold" text-anchor="middle" textLength="11.5" lengthAdjust="spacingAndGlyphs" fill="#231f20" stroke="#231f20" stroke-width="0.25">NO STEP</text>
<g transform="translate(421.0,427.0) rotate(98.0)" font-size="2.8" font-weight="bold" text-anchor="middle" fill="#231f20" stroke="#231f20" stroke-width="0.2"><text x="0" y="-0.3">NO</text><text x="0" y="2.4">STEP</text></g>
<text transform="translate(437.5,430.5) rotate(0.0)" x="0" y="1.01" font-size="2.8" font-weight="bold" text-anchor="middle" textLength="11.5" lengthAdjust="spacingAndGlyphs" fill="#231f20" stroke="#231f20" stroke-width="0.25">NO STEP</text>
<text transform="translate(437.0,456.5) rotate(180.0)" x="0" y="1.01" font-size="2.8" font-weight="bold" text-anchor="middle" textLength="11.5" lengthAdjust="spacingAndGlyphs" fill="#231f20" stroke="#231f20" stroke-width="0.25">NO STEP</text>
<g transform="translate(417.5,462.0) rotate(99.0)" font-size="2.8" font-weight="bold" text-anchor="middle" fill="#231f20" stroke="#231f20" stroke-width="0.2"><text x="0" y="-0.3">NO</text><text x="0" y="2.4">STEP</text></g>
<text transform="translate(409.1,506.0) rotate(99.1)" x="0" y="1.08" font-size="3.0" font-weight="bold" text-anchor="middle" textLength="12.3" lengthAdjust="spacingAndGlyphs" fill="#231f20" stroke="#231f20" stroke-width="0.25">NO STEP</text>
<text transform="translate(400.7,558.0) rotate(99.1)" x="0" y="1.08" font-size="3.0" font-weight="bold" text-anchor="middle" textLength="12.3" lengthAdjust="spacingAndGlyphs" fill="#231f20" stroke="#231f20" stroke-width="0.25">NO STEP</text>
<line x1="413.3" y1="478.0" x2="410.1" y2="498.0" stroke="#231f20" stroke-width="1.0" stroke-dasharray="1.1 0.6" opacity="0.9"/>
<line x1="406.6" y1="520.0" x2="402.1" y2="548.0" stroke="#231f20" stroke-width="1.0" stroke-dasharray="1.1 0.6" opacity="0.9"/>
<g transform="translate(599.9,93.6) rotate(0.0)" font-size="2.7" font-weight="bold" text-anchor="middle" fill="#231f20" stroke="#231f20" stroke-width="0.2"><text x="0" y="-0.3">NO</text><text x="0" y="2.3">STEP</text></g>
<g transform="translate(585.6,122.0) rotate(0.0)" font-size="2.7" font-weight="bold" text-anchor="middle" fill="#231f20" stroke="#231f20" stroke-width="0.2"><text x="0" y="-0.3">NO</text><text x="0" y="2.3">STEP</text></g>
<g transform="translate(573.0,199.0) rotate(98.0)" font-size="2.6" font-weight="bold" text-anchor="middle" fill="#231f20" stroke="#231f20" stroke-width="0.2"><text x="0" y="-0.3">NO</text><text x="0" y="2.2">STEP</text></g>
<g transform="translate(590.5,199.0) rotate(-88.0)" font-size="2.6" font-weight="bold" text-anchor="middle" fill="#231f20" stroke="#231f20" stroke-width="0.2"><text x="0" y="-0.3">NO</text><text x="0" y="2.2">STEP</text></g>
<line x1="577.6" y1="148.0" x2="573.2" y2="173.0" stroke="#231f20" stroke-width="1.0" stroke-dasharray="1.1 0.6" opacity="0.9"/>
<g transform="translate(717.5,198.5) rotate(90.0)" font-size="2.2" font-weight="bold" text-anchor="middle" fill="#231f20" stroke="#231f20" stroke-width="0.2"><text x="0" y="-0.3">NO</text><text x="0" y="1.9">STEP</text></g>
<g transform="translate(790.5,194.0) rotate(90.0)" font-size="2.2" font-weight="bold" text-anchor="middle" fill="#231f20" stroke="#231f20" stroke-width="0.2"><text x="0" y="-0.3">NO</text><text x="0" y="1.9">STEP</text></g>
<text transform="translate(268.7,143.0) rotate(0.0)" x="0" y="1.04" font-size="2.9" font-weight="bold" text-anchor="middle" textLength="11.9" lengthAdjust="spacingAndGlyphs" fill="#231f20" stroke="#231f20" stroke-width="0.25">NO STEP</text>
<text transform="translate(270.6,162.0) rotate(180.0)" x="0" y="1.04" font-size="2.9" font-weight="bold" text-anchor="middle" textLength="11.9" lengthAdjust="spacingAndGlyphs" fill="#231f20" stroke="#231f20" stroke-width="0.25">NO STEP</text>
<text transform="translate(319.8,151.2) rotate(90.0)" x="0" y="1.04" font-size="2.9" font-weight="bold" text-anchor="middle" textLength="11.9" lengthAdjust="spacingAndGlyphs" fill="#231f20" stroke="#231f20" stroke-width="0.25">NO STEP</text>
<text transform="translate(271.1,207.7) rotate(0.0)" x="0" y="1.04" font-size="2.9" font-weight="bold" text-anchor="middle" textLength="11.9" lengthAdjust="spacingAndGlyphs" fill="#231f20" stroke="#231f20" stroke-width="0.25">NO STEP</text>
<text transform="translate(271.5,226.6) rotate(180.0)" x="0" y="1.04" font-size="2.9" font-weight="bold" text-anchor="middle" textLength="11.9" lengthAdjust="spacingAndGlyphs" fill="#231f20" stroke="#231f20" stroke-width="0.25">NO STEP</text>
<text transform="translate(323.5,217.2) rotate(90.0)" x="0" y="1.04" font-size="2.9" font-weight="bold" text-anchor="middle" textLength="11.9" lengthAdjust="spacingAndGlyphs" fill="#231f20" stroke="#231f20" stroke-width="0.25">NO STEP</text>
<text transform="translate(275.3,266.1) rotate(0.0)" x="0" y="1.04" font-size="2.9" font-weight="bold" text-anchor="middle" textLength="11.9" lengthAdjust="spacingAndGlyphs" fill="#231f20" stroke="#231f20" stroke-width="0.25">NO STEP</text>
<text transform="translate(275.7,284.6) rotate(180.0)" x="0" y="1.04" font-size="2.9" font-weight="bold" text-anchor="middle" textLength="11.9" lengthAdjust="spacingAndGlyphs" fill="#231f20" stroke="#231f20" stroke-width="0.25">NO STEP</text>
<text transform="translate(324.5,274.5) rotate(90.0)" x="0" y="1.04" font-size="2.9" font-weight="bold" text-anchor="middle" textLength="11.9" lengthAdjust="spacingAndGlyphs" fill="#231f20" stroke="#231f20" stroke-width="0.25">NO STEP</text>
<text transform="translate(554.3,294.7) rotate(0.0)" x="0" y="1.04" font-size="2.9" font-weight="bold" text-anchor="middle" textLength="11.9" lengthAdjust="spacingAndGlyphs" fill="#231f20" stroke="#231f20" stroke-width="0.25">NO STEP</text>
<text transform="translate(554.3,313.6) rotate(180.0)" x="0" y="1.04" font-size="2.9" font-weight="bold" text-anchor="middle" textLength="11.9" lengthAdjust="spacingAndGlyphs" fill="#231f20" stroke="#231f20" stroke-width="0.25">NO STEP</text>
<text transform="translate(609.1,304.1) rotate(90.0)" x="0" y="1.04" font-size="2.9" font-weight="bold" text-anchor="middle" textLength="11.9" lengthAdjust="spacingAndGlyphs" fill="#231f20" stroke="#231f20" stroke-width="0.25">NO STEP</text>
<text transform="translate(555.8,354.5) rotate(0.0)" x="0" y="1.04" font-size="2.9" font-weight="bold" text-anchor="middle" textLength="11.9" lengthAdjust="spacingAndGlyphs" fill="#231f20" stroke="#231f20" stroke-width="0.25">NO STEP</text>
<text transform="translate(555.8,373.1) rotate(180.0)" x="0" y="1.04" font-size="2.9" font-weight="bold" text-anchor="middle" textLength="11.9" lengthAdjust="spacingAndGlyphs" fill="#231f20" stroke="#231f20" stroke-width="0.25">NO STEP</text>
<text transform="translate(614.8,363.2) rotate(90.0)" x="0" y="1.04" font-size="2.9" font-weight="bold" text-anchor="middle" textLength="11.9" lengthAdjust="spacingAndGlyphs" fill="#231f20" stroke="#231f20" stroke-width="0.25">NO STEP</text>
<text transform="translate(558.6,409.9) rotate(0.0)" x="0" y="1.04" font-size="2.9" font-weight="bold" text-anchor="middle" textLength="11.9" lengthAdjust="spacingAndGlyphs" fill="#231f20" stroke="#231f20" stroke-width="0.25">NO STEP</text>
<text transform="translate(557.7,428.9) rotate(180.0)" x="0" y="1.04" font-size="2.9" font-weight="bold" text-anchor="middle" textLength="11.9" lengthAdjust="spacingAndGlyphs" fill="#231f20" stroke="#231f20" stroke-width="0.25">NO STEP</text>
<text transform="translate(614.8,419.5) rotate(90.0)" x="0" y="1.04" font-size="2.9" font-weight="bold" text-anchor="middle" textLength="11.9" lengthAdjust="spacingAndGlyphs" fill="#231f20" stroke="#231f20" stroke-width="0.25">NO STEP</text>
</svg>
</body></html>
